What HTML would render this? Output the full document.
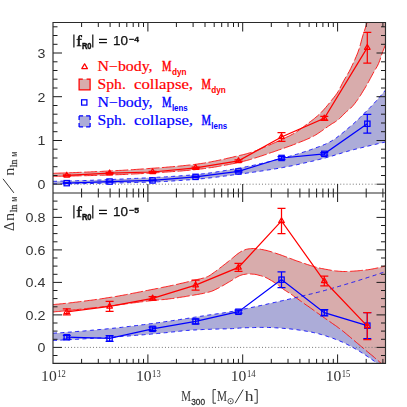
<!DOCTYPE html>
<html><head><meta charset="utf-8"><title>chart</title>
<style>html,body{margin:0;padding:0;background:#fff;}body{width:407px;height:407px;overflow:hidden;position:relative;font-family:"Liberation Sans",sans-serif;}</style>
</head><body>
<svg width="407" height="407" viewBox="0 0 407 407" style="position:absolute;left:0;top:0">
<defs><clipPath id="ct"><rect x="53.0" y="22.5" width="332.5" height="170.5"/></clipPath><clipPath id="cb"><rect x="53.0" y="193.0" width="332.5" height="170.39999999999998"/></clipPath></defs>
<rect width="407" height="407" fill="#fff"/>
<g>
<g clip-path="url(#ct)">
<path d="M53.0 181.3L54.4 181.3L55.8 181.3L57.2 181.2L58.6 181.2L60.0 181.2L61.3 181.1L62.7 181.1L64.1 181.1L65.5 181.1L66.9 181.0L68.3 181.0L69.7 181.0L71.1 180.9L72.5 180.9L73.9 180.8L75.3 180.8L76.7 180.8L78.0 180.7L79.4 180.7L80.8 180.6L82.2 180.6L83.6 180.6L85.0 180.5L86.4 180.5L87.8 180.4L89.2 180.4L90.6 180.3L92.0 180.3L93.3 180.2L94.7 180.2L96.1 180.1L97.5 180.1L98.9 180.0L100.3 180.0L101.7 179.9L103.1 179.9L104.5 179.8L105.9 179.7L107.3 179.7L108.6 179.6L110.0 179.6L111.4 179.5L112.8 179.5L114.2 179.4L115.6 179.3L117.0 179.3L118.4 179.2L119.8 179.1L121.2 179.1L122.6 179.0L124.0 179.0L125.3 178.9L126.7 178.8L128.1 178.8L129.5 178.7L130.9 178.6L132.3 178.6L133.7 178.5L135.1 178.4L136.5 178.4L137.9 178.3L139.3 178.2L140.6 178.2L142.0 178.1L143.4 178.0L144.8 178.0L146.2 177.9L147.6 177.8L149.0 177.8L150.4 177.7L151.8 177.6L153.2 177.5L154.6 177.5L155.9 177.4L157.3 177.3L158.7 177.2L160.1 177.2L161.5 177.1L162.9 177.0L164.3 176.9L165.7 176.9L167.1 176.8L168.5 176.7L169.9 176.6L171.3 176.5L172.6 176.4L174.0 176.3L175.4 176.2L176.8 176.1L178.2 176.0L179.6 175.9L181.0 175.8L182.4 175.7L183.8 175.6L185.2 175.5L186.6 175.4L187.9 175.3L189.3 175.2L190.7 175.0L192.1 174.9L193.5 174.8L194.9 174.7L196.3 174.5L197.7 174.4L199.1 174.3L200.5 174.1L201.9 173.9L203.3 173.8L204.6 173.6L206.0 173.4L207.4 173.2L208.8 173.1L210.2 172.9L211.6 172.7L213.0 172.5L214.4 172.3L215.8 172.1L217.2 171.8L218.6 171.6L219.9 171.4L221.3 171.2L222.7 171.0L224.1 170.7L225.5 170.5L226.9 170.2L228.3 170.0L229.7 169.8L231.1 169.5L232.5 169.3L233.9 169.0L235.2 168.8L236.6 168.5L238.0 168.3L239.4 168.0L240.8 167.8L242.2 167.5L243.6 167.3L245.0 167.0L246.4 166.7L247.8 166.4L249.2 166.1L250.6 165.9L251.9 165.6L253.3 165.3L254.7 165.0L256.1 164.7L257.5 164.4L258.9 164.0L260.3 163.7L261.7 163.4L263.1 163.1L264.5 162.8L265.9 162.4L267.2 162.1L268.6 161.8L270.0 161.4L271.4 161.1L272.8 160.7L274.2 160.4L275.6 160.0L277.0 159.7L278.4 159.3L279.8 159.0L281.2 158.6L282.6 158.2L283.9 157.9L285.3 157.5L286.7 157.1L288.1 156.7L289.5 156.3L290.9 155.9L292.3 155.5L293.7 155.1L295.1 154.7L296.5 154.3L297.9 153.9L299.2 153.4L300.6 153.0L302.0 152.6L303.4 152.1L304.8 151.7L306.2 151.2L307.6 150.7L309.0 150.3L310.4 149.8L311.8 149.3L313.2 148.8L314.5 148.3L315.9 147.8L317.3 147.3L318.7 146.8L320.1 146.3L321.5 145.7L322.9 145.2L324.3 144.6L325.7 144.0L327.1 143.3L328.5 142.6L329.9 141.9L331.2 141.2L332.6 140.3L334.0 139.4L335.4 138.5L336.8 137.5L338.2 136.4L339.6 135.4L341.0 134.2L342.4 133.1L343.8 132.0L345.2 130.8L346.5 129.6L347.9 128.4L349.3 127.3L350.7 126.1L352.1 124.9L353.5 123.7L354.9 122.4L356.3 121.1L357.7 119.8L359.1 118.5L360.5 117.2L361.8 115.8L363.2 114.4L364.6 113.0L366.0 111.6L367.4 110.2L368.8 108.8L370.2 107.4L371.6 105.9L373.0 104.4L374.4 102.9L375.8 101.4L377.2 99.8L378.5 98.3L379.9 96.7L381.3 95.1L382.7 93.4L384.1 91.8L385.5 90.1L385.5 141.9L384.1 142.3L382.7 142.6L381.3 142.9L379.9 143.3L378.5 143.6L377.2 143.9L375.8 144.3L374.4 144.6L373.0 144.9L371.6 145.3L370.2 145.6L368.8 145.9L367.4 146.3L366.0 146.6L364.6 147.0L363.2 147.3L361.8 147.6L360.5 148.0L359.1 148.3L357.7 148.6L356.3 149.0L354.9 149.3L353.5 149.7L352.1 150.1L350.7 150.4L349.3 150.8L347.9 151.2L346.5 151.6L345.2 152.0L343.8 152.4L342.4 152.8L341.0 153.3L339.6 153.7L338.2 154.2L336.8 154.6L335.4 155.0L334.0 155.4L332.6 155.9L331.2 156.3L329.9 156.7L328.5 157.0L327.1 157.4L325.7 157.8L324.3 158.2L322.9 158.5L321.5 158.9L320.1 159.2L318.7 159.6L317.3 159.9L315.9 160.3L314.5 160.6L313.2 161.0L311.8 161.3L310.4 161.6L309.0 161.9L307.6 162.3L306.2 162.6L304.8 162.9L303.4 163.2L302.0 163.5L300.6 163.9L299.2 164.2L297.9 164.5L296.5 164.8L295.1 165.1L293.7 165.4L292.3 165.7L290.9 166.0L289.5 166.2L288.1 166.5L286.7 166.8L285.3 167.1L283.9 167.3L282.6 167.6L281.2 167.8L279.8 168.1L278.4 168.3L277.0 168.6L275.6 168.8L274.2 169.0L272.8 169.3L271.4 169.5L270.0 169.7L268.6 169.9L267.2 170.1L265.9 170.4L264.5 170.6L263.1 170.8L261.7 171.0L260.3 171.2L258.9 171.4L257.5 171.6L256.1 171.8L254.7 172.0L253.3 172.2L251.9 172.4L250.6 172.6L249.2 172.8L247.8 173.0L246.4 173.2L245.0 173.4L243.6 173.6L242.2 173.7L240.8 173.9L239.4 174.1L238.0 174.3L236.6 174.5L235.2 174.7L233.9 174.8L232.5 175.0L231.1 175.2L229.7 175.4L228.3 175.6L226.9 175.8L225.5 176.0L224.1 176.1L222.7 176.3L221.3 176.5L219.9 176.7L218.6 176.9L217.2 177.0L215.8 177.2L214.4 177.4L213.0 177.5L211.6 177.7L210.2 177.9L208.8 178.0L207.4 178.2L206.0 178.3L204.6 178.5L203.3 178.6L201.9 178.7L200.5 178.9L199.1 179.0L197.7 179.1L196.3 179.2L194.9 179.4L193.5 179.5L192.1 179.6L190.7 179.7L189.3 179.8L187.9 179.9L186.6 180.0L185.2 180.1L183.8 180.2L182.4 180.3L181.0 180.4L179.6 180.5L178.2 180.6L176.8 180.7L175.4 180.8L174.0 180.9L172.6 181.0L171.3 181.1L169.9 181.2L168.5 181.3L167.1 181.3L165.7 181.4L164.3 181.5L162.9 181.6L161.5 181.6L160.1 181.7L158.7 181.8L157.3 181.8L155.9 181.9L154.6 181.9L153.2 182.0L151.8 182.0L150.4 182.0L149.0 182.1L147.6 182.1L146.2 182.2L144.8 182.2L143.4 182.3L142.0 182.3L140.6 182.3L139.3 182.4L137.9 182.4L136.5 182.5L135.1 182.5L133.7 182.5L132.3 182.6L130.9 182.6L129.5 182.6L128.1 182.7L126.7 182.7L125.3 182.8L124.0 182.8L122.6 182.8L121.2 182.9L119.8 182.9L118.4 182.9L117.0 183.0L115.6 183.0L114.2 183.0L112.8 183.1L111.4 183.1L110.0 183.1L108.6 183.1L107.3 183.2L105.9 183.2L104.5 183.2L103.1 183.3L101.7 183.3L100.3 183.3L98.9 183.3L97.5 183.4L96.1 183.4L94.7 183.4L93.3 183.4L92.0 183.5L90.6 183.5L89.2 183.5L87.8 183.5L86.4 183.5L85.0 183.6L83.6 183.6L82.2 183.6L80.8 183.6L79.4 183.6L78.0 183.7L76.7 183.7L75.3 183.7L73.9 183.7L72.5 183.7L71.1 183.7L69.7 183.7L68.3 183.7L66.9 183.8L65.5 183.8L64.1 183.8L62.7 183.8L61.3 183.8L60.0 183.8L58.6 183.8L57.2 183.8L55.8 183.8L54.4 183.8L53.0 183.8Z" fill="#acacd8" stroke="none"/>
<path d="M53.0 173.3L54.4 173.3L55.8 173.2L57.2 173.2L58.6 173.1L60.0 173.1L61.3 173.0L62.7 173.0L64.1 173.0L65.5 172.9L66.9 172.9L68.3 172.8L69.7 172.8L71.1 172.7L72.5 172.7L73.9 172.6L75.3 172.6L76.7 172.5L78.0 172.4L79.4 172.4L80.8 172.3L82.2 172.3L83.6 172.2L85.0 172.1L86.4 172.1L87.8 172.0L89.2 172.0L90.6 171.9L92.0 171.8L93.3 171.8L94.7 171.7L96.1 171.6L97.5 171.6L98.9 171.5L100.3 171.5L101.7 171.4L103.1 171.3L104.5 171.2L105.9 171.2L107.3 171.1L108.6 171.0L110.0 171.0L111.4 170.9L112.8 170.8L114.2 170.8L115.6 170.7L117.0 170.6L118.4 170.5L119.8 170.4L121.2 170.4L122.6 170.3L124.0 170.2L125.3 170.1L126.7 170.0L128.1 169.9L129.5 169.9L130.9 169.8L132.3 169.7L133.7 169.6L135.1 169.5L136.5 169.4L137.9 169.3L139.3 169.2L140.6 169.1L142.0 169.0L143.4 168.9L144.8 168.8L146.2 168.7L147.6 168.6L149.0 168.5L150.4 168.4L151.8 168.3L153.2 168.2L154.6 168.1L155.9 168.0L157.3 167.9L158.7 167.8L160.1 167.7L161.5 167.6L162.9 167.5L164.3 167.4L165.7 167.3L167.1 167.1L168.5 167.0L169.9 166.9L171.3 166.8L172.6 166.7L174.0 166.6L175.4 166.4L176.8 166.3L178.2 166.2L179.6 166.0L181.0 165.9L182.4 165.8L183.8 165.6L185.2 165.5L186.6 165.3L187.9 165.2L189.3 165.0L190.7 164.9L192.1 164.7L193.5 164.6L194.9 164.4L196.3 164.2L197.7 164.0L199.1 163.8L200.5 163.6L201.9 163.4L203.3 163.2L204.6 163.0L206.0 162.7L207.4 162.5L208.8 162.2L210.2 162.0L211.6 161.7L213.0 161.4L214.4 161.2L215.8 160.9L217.2 160.6L218.6 160.3L219.9 160.0L221.3 159.7L222.7 159.4L224.1 159.1L225.5 158.8L226.9 158.4L228.3 158.1L229.7 157.8L231.1 157.5L232.5 157.2L233.9 156.8L235.2 156.5L236.6 156.2L238.0 155.9L239.4 155.5L240.8 155.2L242.2 154.9L243.6 154.5L245.0 154.2L246.4 153.8L247.8 153.4L249.2 153.0L250.6 152.6L251.9 152.2L253.3 151.7L254.7 151.2L256.1 150.7L257.5 150.1L258.9 149.5L260.3 148.9L261.7 148.3L263.1 147.7L264.5 147.1L265.9 146.5L267.2 145.9L268.6 145.4L270.0 144.8L271.4 144.2L272.8 143.5L274.2 142.9L275.6 142.3L277.0 141.7L278.4 141.1L279.8 140.4L281.2 139.8L282.6 139.1L283.9 138.5L285.3 137.8L286.7 137.1L288.1 136.5L289.5 135.8L290.9 135.1L292.3 134.3L293.7 133.6L295.1 132.8L296.5 131.9L297.9 131.0L299.2 130.0L300.6 129.0L302.0 127.9L303.4 126.9L304.8 125.8L306.2 124.7L307.6 123.7L309.0 122.6L310.4 121.6L311.8 120.5L313.2 119.5L314.5 118.4L315.9 117.2L317.3 116.1L318.7 114.8L320.1 113.5L321.5 112.1L322.9 110.6L324.3 109.1L325.7 107.5L327.1 105.8L328.5 104.1L329.9 102.4L331.2 100.7L332.6 99.0L334.0 97.3L335.4 95.5L336.8 93.6L338.2 91.4L339.6 88.8L341.0 86.1L342.4 83.3L343.8 80.6L345.2 78.2L346.5 76.0L347.9 73.7L349.3 71.3L350.7 68.5L352.1 65.6L353.5 62.6L354.9 59.5L356.3 56.3L357.7 52.9L359.1 48.9L360.5 44.2L361.8 39.2L363.2 34.5L364.6 30.2L366.0 25.9L367.4 21.6L368.8 17.0L370.2 12.3L371.6 7.5L373.0 2.6L374.4 -2.3L375.8 -7.2L377.2 -12.2L378.5 -17.1L379.9 -21.9L381.3 -26.6L382.7 -31.2L384.1 -35.6L385.5 -39.8L385.5 44.9L384.1 48.2L382.7 51.8L381.3 55.7L379.9 60.2L378.5 63.7L377.2 66.4L375.8 68.7L374.4 71.0L373.0 73.5L371.6 76.1L370.2 78.7L368.8 81.3L367.4 83.9L366.0 86.3L364.6 88.7L363.2 90.9L361.8 93.2L360.5 95.4L359.1 97.5L357.7 99.6L356.3 101.5L354.9 103.4L353.5 105.1L352.1 106.7L350.7 108.1L349.3 109.3L347.9 110.5L346.5 111.6L345.2 112.9L343.8 114.2L342.4 115.7L341.0 117.1L339.6 118.5L338.2 119.7L336.8 120.7L335.4 121.7L334.0 122.6L332.6 123.4L331.2 124.3L329.9 125.2L328.5 126.1L327.1 127.1L325.7 128.1L324.3 129.1L322.9 130.1L321.5 131.1L320.1 132.0L318.7 133.0L317.3 133.9L315.9 134.8L314.5 135.6L313.2 136.3L311.8 137.0L310.4 137.7L309.0 138.4L307.6 139.0L306.2 139.6L304.8 140.2L303.4 140.8L302.0 141.3L300.6 141.9L299.2 142.4L297.9 143.0L296.5 143.5L295.1 144.1L293.7 144.6L292.3 145.2L290.9 145.7L289.5 146.2L288.1 146.7L286.7 147.2L285.3 147.7L283.9 148.2L282.6 148.7L281.2 149.2L279.8 149.6L278.4 150.1L277.0 150.6L275.6 151.1L274.2 151.6L272.8 152.1L271.4 152.5L270.0 153.0L268.6 153.5L267.2 154.0L265.9 154.5L264.5 154.9L263.1 155.4L261.7 155.9L260.3 156.3L258.9 156.8L257.5 157.2L256.1 157.7L254.7 158.1L253.3 158.5L251.9 159.0L250.6 159.4L249.2 159.8L247.8 160.2L246.4 160.6L245.0 160.9L243.6 161.3L242.2 161.6L240.8 162.0L239.4 162.3L238.0 162.6L236.6 162.9L235.2 163.2L233.9 163.5L232.5 163.8L231.1 164.0L229.7 164.3L228.3 164.6L226.9 164.9L225.5 165.1L224.1 165.4L222.7 165.6L221.3 165.9L219.9 166.1L218.6 166.4L217.2 166.6L215.8 166.9L214.4 167.1L213.0 167.3L211.6 167.5L210.2 167.7L208.8 167.9L207.4 168.1L206.0 168.3L204.6 168.5L203.3 168.7L201.9 168.9L200.5 169.0L199.1 169.2L197.7 169.4L196.3 169.5L194.9 169.7L193.5 169.8L192.1 170.0L190.7 170.1L189.3 170.2L187.9 170.4L186.6 170.5L185.2 170.6L183.8 170.7L182.4 170.9L181.0 171.0L179.6 171.1L178.2 171.2L176.8 171.3L175.4 171.4L174.0 171.5L172.6 171.6L171.3 171.7L169.9 171.8L168.5 171.9L167.1 172.0L165.7 172.1L164.3 172.2L162.9 172.3L161.5 172.4L160.1 172.5L158.7 172.6L157.3 172.7L155.9 172.8L154.6 172.8L153.2 172.9L151.8 173.0L150.4 173.1L149.0 173.2L147.6 173.3L146.2 173.3L144.8 173.4L143.4 173.5L142.0 173.6L140.6 173.6L139.3 173.7L137.9 173.8L136.5 173.9L135.1 173.9L133.7 174.0L132.3 174.1L130.9 174.1L129.5 174.2L128.1 174.3L126.7 174.3L125.3 174.4L124.0 174.5L122.6 174.5L121.2 174.6L119.8 174.6L118.4 174.7L117.0 174.7L115.6 174.8L114.2 174.8L112.8 174.9L111.4 174.9L110.0 175.0L108.6 175.0L107.3 175.1L105.9 175.1L104.5 175.2L103.1 175.2L101.7 175.2L100.3 175.3L98.9 175.3L97.5 175.4L96.1 175.4L94.7 175.4L93.3 175.5L92.0 175.5L90.6 175.6L89.2 175.6L87.8 175.6L86.4 175.7L85.0 175.7L83.6 175.7L82.2 175.8L80.8 175.8L79.4 175.8L78.0 175.9L76.7 175.9L75.3 175.9L73.9 176.0L72.5 176.0L71.1 176.0L69.7 176.1L68.3 176.1L66.9 176.1L65.5 176.1L64.1 176.2L62.7 176.2L61.3 176.2L60.0 176.2L58.6 176.2L57.2 176.3L55.8 176.3L54.4 176.3L53.0 176.3Z" fill="#d8acac" stroke="none"/>
<path d="M64.8 184.2H376.5" stroke="#777" stroke-width="1" stroke-dasharray="1 2.13" fill="none"/>
<path d="M53.0 173.3L54.4 173.3L55.8 173.2L57.2 173.2L58.6 173.1L60.0 173.1L61.3 173.0L62.7 173.0L64.1 173.0L65.5 172.9L66.9 172.9L68.3 172.8L69.7 172.8L71.1 172.7L72.5 172.7L73.9 172.6L75.3 172.6L76.7 172.5L78.0 172.4L79.4 172.4L80.8 172.3L82.2 172.3L83.6 172.2L85.0 172.1L86.4 172.1L87.8 172.0L89.2 172.0L90.6 171.9L92.0 171.8L93.3 171.8L94.7 171.7L96.1 171.6L97.5 171.6L98.9 171.5L100.3 171.5L101.7 171.4L103.1 171.3L104.5 171.2L105.9 171.2L107.3 171.1L108.6 171.0L110.0 171.0L111.4 170.9L112.8 170.8L114.2 170.8L115.6 170.7L117.0 170.6L118.4 170.5L119.8 170.4L121.2 170.4L122.6 170.3L124.0 170.2L125.3 170.1L126.7 170.0L128.1 169.9L129.5 169.9L130.9 169.8L132.3 169.7L133.7 169.6L135.1 169.5L136.5 169.4L137.9 169.3L139.3 169.2L140.6 169.1L142.0 169.0L143.4 168.9L144.8 168.8L146.2 168.7L147.6 168.6L149.0 168.5L150.4 168.4L151.8 168.3L153.2 168.2L154.6 168.1L155.9 168.0L157.3 167.9L158.7 167.8L160.1 167.7L161.5 167.6L162.9 167.5L164.3 167.4L165.7 167.3L167.1 167.1L168.5 167.0L169.9 166.9L171.3 166.8L172.6 166.7L174.0 166.6L175.4 166.4L176.8 166.3L178.2 166.2L179.6 166.0L181.0 165.9L182.4 165.8L183.8 165.6L185.2 165.5L186.6 165.3L187.9 165.2L189.3 165.0L190.7 164.9L192.1 164.7L193.5 164.6L194.9 164.4L196.3 164.2L197.7 164.0L199.1 163.8L200.5 163.6L201.9 163.4L203.3 163.2L204.6 163.0L206.0 162.7L207.4 162.5L208.8 162.2L210.2 162.0L211.6 161.7L213.0 161.4L214.4 161.2L215.8 160.9L217.2 160.6L218.6 160.3L219.9 160.0L221.3 159.7L222.7 159.4L224.1 159.1L225.5 158.8L226.9 158.4L228.3 158.1L229.7 157.8L231.1 157.5L232.5 157.2L233.9 156.8L235.2 156.5L236.6 156.2L238.0 155.9L239.4 155.5L240.8 155.2L242.2 154.9L243.6 154.5L245.0 154.2L246.4 153.8L247.8 153.4L249.2 153.0L250.6 152.6L251.9 152.2L253.3 151.7L254.7 151.2L256.1 150.7L257.5 150.1L258.9 149.5L260.3 148.9L261.7 148.3L263.1 147.7L264.5 147.1L265.9 146.5L267.2 145.9L268.6 145.4L270.0 144.8L271.4 144.2L272.8 143.5L274.2 142.9L275.6 142.3L277.0 141.7L278.4 141.1L279.8 140.4L281.2 139.8L282.6 139.1L283.9 138.5L285.3 137.8L286.7 137.1L288.1 136.5L289.5 135.8L290.9 135.1L292.3 134.3L293.7 133.6L295.1 132.8L296.5 131.9L297.9 131.0L299.2 130.0L300.6 129.0L302.0 127.9L303.4 126.9L304.8 125.8L306.2 124.7L307.6 123.7L309.0 122.6L310.4 121.6L311.8 120.5L313.2 119.5L314.5 118.4L315.9 117.2L317.3 116.1L318.7 114.8L320.1 113.5L321.5 112.1L322.9 110.6L324.3 109.1L325.7 107.5L327.1 105.8L328.5 104.1L329.9 102.4L331.2 100.7L332.6 99.0L334.0 97.3L335.4 95.5L336.8 93.6L338.2 91.4L339.6 88.8L341.0 86.1L342.4 83.3L343.8 80.6L345.2 78.2L346.5 76.0L347.9 73.7L349.3 71.3L350.7 68.5L352.1 65.6L353.5 62.6L354.9 59.5L356.3 56.3L357.7 52.9L359.1 48.9L360.5 44.2L361.8 39.2L363.2 34.5L364.6 30.2L366.0 25.9L367.4 21.6L368.8 17.0L370.2 12.3L371.6 7.5L373.0 2.6L374.4 -2.3L375.8 -7.2L377.2 -12.2L378.5 -17.1L379.9 -21.9L381.3 -26.6L382.7 -31.2L384.1 -35.6L385.5 -39.8" fill="none" stroke="#ff0000" stroke-width="0.85" stroke-dasharray="13 2.6"/>
<path d="M53.0 176.3L54.4 176.3L55.8 176.3L57.2 176.3L58.6 176.2L60.0 176.2L61.3 176.2L62.7 176.2L64.1 176.2L65.5 176.1L66.9 176.1L68.3 176.1L69.7 176.1L71.1 176.0L72.5 176.0L73.9 176.0L75.3 175.9L76.7 175.9L78.0 175.9L79.4 175.8L80.8 175.8L82.2 175.8L83.6 175.7L85.0 175.7L86.4 175.7L87.8 175.6L89.2 175.6L90.6 175.6L92.0 175.5L93.3 175.5L94.7 175.4L96.1 175.4L97.5 175.4L98.9 175.3L100.3 175.3L101.7 175.2L103.1 175.2L104.5 175.2L105.9 175.1L107.3 175.1L108.6 175.0L110.0 175.0L111.4 174.9L112.8 174.9L114.2 174.8L115.6 174.8L117.0 174.7L118.4 174.7L119.8 174.6L121.2 174.6L122.6 174.5L124.0 174.5L125.3 174.4L126.7 174.3L128.1 174.3L129.5 174.2L130.9 174.1L132.3 174.1L133.7 174.0L135.1 173.9L136.5 173.9L137.9 173.8L139.3 173.7L140.6 173.6L142.0 173.6L143.4 173.5L144.8 173.4L146.2 173.3L147.6 173.3L149.0 173.2L150.4 173.1L151.8 173.0L153.2 172.9L154.6 172.8L155.9 172.8L157.3 172.7L158.7 172.6L160.1 172.5L161.5 172.4L162.9 172.3L164.3 172.2L165.7 172.1L167.1 172.0L168.5 171.9L169.9 171.8L171.3 171.7L172.6 171.6L174.0 171.5L175.4 171.4L176.8 171.3L178.2 171.2L179.6 171.1L181.0 171.0L182.4 170.9L183.8 170.7L185.2 170.6L186.6 170.5L187.9 170.4L189.3 170.2L190.7 170.1L192.1 170.0L193.5 169.8L194.9 169.7L196.3 169.5L197.7 169.4L199.1 169.2L200.5 169.0L201.9 168.9L203.3 168.7L204.6 168.5L206.0 168.3L207.4 168.1L208.8 167.9L210.2 167.7L211.6 167.5L213.0 167.3L214.4 167.1L215.8 166.9L217.2 166.6L218.6 166.4L219.9 166.1L221.3 165.9L222.7 165.6L224.1 165.4L225.5 165.1L226.9 164.9L228.3 164.6L229.7 164.3L231.1 164.0L232.5 163.8L233.9 163.5L235.2 163.2L236.6 162.9L238.0 162.6L239.4 162.3L240.8 162.0L242.2 161.6L243.6 161.3L245.0 160.9L246.4 160.6L247.8 160.2L249.2 159.8L250.6 159.4L251.9 159.0L253.3 158.5L254.7 158.1L256.1 157.7L257.5 157.2L258.9 156.8L260.3 156.3L261.7 155.9L263.1 155.4L264.5 154.9L265.9 154.5L267.2 154.0L268.6 153.5L270.0 153.0L271.4 152.5L272.8 152.1L274.2 151.6L275.6 151.1L277.0 150.6L278.4 150.1L279.8 149.6L281.2 149.2L282.6 148.7L283.9 148.2L285.3 147.7L286.7 147.2L288.1 146.7L289.5 146.2L290.9 145.7L292.3 145.2L293.7 144.6L295.1 144.1L296.5 143.5L297.9 143.0L299.2 142.4L300.6 141.9L302.0 141.3L303.4 140.8L304.8 140.2L306.2 139.6L307.6 139.0L309.0 138.4L310.4 137.7L311.8 137.0L313.2 136.3L314.5 135.6L315.9 134.8L317.3 133.9L318.7 133.0L320.1 132.0L321.5 131.1L322.9 130.1L324.3 129.1L325.7 128.1L327.1 127.1L328.5 126.1L329.9 125.2L331.2 124.3L332.6 123.4L334.0 122.6L335.4 121.7L336.8 120.7L338.2 119.7L339.6 118.5L341.0 117.1L342.4 115.7L343.8 114.2L345.2 112.9L346.5 111.6L347.9 110.5L349.3 109.3L350.7 108.1L352.1 106.7L353.5 105.1L354.9 103.4L356.3 101.5L357.7 99.6L359.1 97.5L360.5 95.4L361.8 93.2L363.2 90.9L364.6 88.7L366.0 86.3L367.4 83.9L368.8 81.3L370.2 78.7L371.6 76.1L373.0 73.5L374.4 71.0L375.8 68.7L377.2 66.4L378.5 63.7L379.9 60.2L381.3 55.7L382.7 51.8L384.1 48.2L385.5 44.9" fill="none" stroke="#ff0000" stroke-width="0.85" stroke-dasharray="13 2.6"/>
<path d="M53.0 181.3L54.4 181.3L55.8 181.3L57.2 181.2L58.6 181.2L60.0 181.2L61.3 181.1L62.7 181.1L64.1 181.1L65.5 181.1L66.9 181.0L68.3 181.0L69.7 181.0L71.1 180.9L72.5 180.9L73.9 180.8L75.3 180.8L76.7 180.8L78.0 180.7L79.4 180.7L80.8 180.6L82.2 180.6L83.6 180.6L85.0 180.5L86.4 180.5L87.8 180.4L89.2 180.4L90.6 180.3L92.0 180.3L93.3 180.2L94.7 180.2L96.1 180.1L97.5 180.1L98.9 180.0L100.3 180.0L101.7 179.9L103.1 179.9L104.5 179.8L105.9 179.7L107.3 179.7L108.6 179.6L110.0 179.6L111.4 179.5L112.8 179.5L114.2 179.4L115.6 179.3L117.0 179.3L118.4 179.2L119.8 179.1L121.2 179.1L122.6 179.0L124.0 179.0L125.3 178.9L126.7 178.8L128.1 178.8L129.5 178.7L130.9 178.6L132.3 178.6L133.7 178.5L135.1 178.4L136.5 178.4L137.9 178.3L139.3 178.2L140.6 178.2L142.0 178.1L143.4 178.0L144.8 178.0L146.2 177.9L147.6 177.8L149.0 177.8L150.4 177.7L151.8 177.6L153.2 177.5L154.6 177.5L155.9 177.4L157.3 177.3L158.7 177.2L160.1 177.2L161.5 177.1L162.9 177.0L164.3 176.9L165.7 176.9L167.1 176.8L168.5 176.7L169.9 176.6L171.3 176.5L172.6 176.4L174.0 176.3L175.4 176.2L176.8 176.1L178.2 176.0L179.6 175.9L181.0 175.8L182.4 175.7L183.8 175.6L185.2 175.5L186.6 175.4L187.9 175.3L189.3 175.2L190.7 175.0L192.1 174.9L193.5 174.8L194.9 174.7L196.3 174.5L197.7 174.4L199.1 174.3L200.5 174.1L201.9 173.9L203.3 173.8L204.6 173.6L206.0 173.4L207.4 173.2L208.8 173.1L210.2 172.9L211.6 172.7L213.0 172.5L214.4 172.3L215.8 172.1L217.2 171.8L218.6 171.6L219.9 171.4L221.3 171.2L222.7 171.0L224.1 170.7L225.5 170.5L226.9 170.2L228.3 170.0L229.7 169.8L231.1 169.5L232.5 169.3L233.9 169.0L235.2 168.8L236.6 168.5L238.0 168.3L239.4 168.0L240.8 167.8L242.2 167.5L243.6 167.3L245.0 167.0L246.4 166.7L247.8 166.4L249.2 166.1L250.6 165.9L251.9 165.6L253.3 165.3L254.7 165.0L256.1 164.7L257.5 164.4L258.9 164.0L260.3 163.7L261.7 163.4L263.1 163.1L264.5 162.8L265.9 162.4L267.2 162.1L268.6 161.8L270.0 161.4L271.4 161.1L272.8 160.7L274.2 160.4L275.6 160.0L277.0 159.7L278.4 159.3L279.8 159.0L281.2 158.6L282.6 158.2L283.9 157.9L285.3 157.5L286.7 157.1L288.1 156.7L289.5 156.3L290.9 155.9L292.3 155.5L293.7 155.1L295.1 154.7L296.5 154.3L297.9 153.9L299.2 153.4L300.6 153.0L302.0 152.6L303.4 152.1L304.8 151.7L306.2 151.2L307.6 150.7L309.0 150.3L310.4 149.8L311.8 149.3L313.2 148.8L314.5 148.3L315.9 147.8L317.3 147.3L318.7 146.8L320.1 146.3L321.5 145.7L322.9 145.2L324.3 144.6L325.7 144.0L327.1 143.3L328.5 142.6L329.9 141.9L331.2 141.2L332.6 140.3L334.0 139.4L335.4 138.5L336.8 137.5L338.2 136.4L339.6 135.4L341.0 134.2L342.4 133.1L343.8 132.0L345.2 130.8L346.5 129.6L347.9 128.4L349.3 127.3L350.7 126.1L352.1 124.9L353.5 123.7L354.9 122.4L356.3 121.1L357.7 119.8L359.1 118.5L360.5 117.2L361.8 115.8L363.2 114.4L364.6 113.0L366.0 111.6L367.4 110.2L368.8 108.8L370.2 107.4L371.6 105.9L373.0 104.4L374.4 102.9L375.8 101.4L377.2 99.8L378.5 98.3L379.9 96.7L381.3 95.1L382.7 93.4L384.1 91.8L385.5 90.1" fill="none" stroke="#0000ff" stroke-width="0.85" stroke-dasharray="4 3.4"/>
<path d="M53.0 183.8L54.4 183.8L55.8 183.8L57.2 183.8L58.6 183.8L60.0 183.8L61.3 183.8L62.7 183.8L64.1 183.8L65.5 183.8L66.9 183.8L68.3 183.7L69.7 183.7L71.1 183.7L72.5 183.7L73.9 183.7L75.3 183.7L76.7 183.7L78.0 183.7L79.4 183.6L80.8 183.6L82.2 183.6L83.6 183.6L85.0 183.6L86.4 183.5L87.8 183.5L89.2 183.5L90.6 183.5L92.0 183.5L93.3 183.4L94.7 183.4L96.1 183.4L97.5 183.4L98.9 183.3L100.3 183.3L101.7 183.3L103.1 183.3L104.5 183.2L105.9 183.2L107.3 183.2L108.6 183.1L110.0 183.1L111.4 183.1L112.8 183.1L114.2 183.0L115.6 183.0L117.0 183.0L118.4 182.9L119.8 182.9L121.2 182.9L122.6 182.8L124.0 182.8L125.3 182.8L126.7 182.7L128.1 182.7L129.5 182.6L130.9 182.6L132.3 182.6L133.7 182.5L135.1 182.5L136.5 182.5L137.9 182.4L139.3 182.4L140.6 182.3L142.0 182.3L143.4 182.3L144.8 182.2L146.2 182.2L147.6 182.1L149.0 182.1L150.4 182.0L151.8 182.0L153.2 182.0L154.6 181.9L155.9 181.9L157.3 181.8L158.7 181.8L160.1 181.7L161.5 181.6L162.9 181.6L164.3 181.5L165.7 181.4L167.1 181.3L168.5 181.3L169.9 181.2L171.3 181.1L172.6 181.0L174.0 180.9L175.4 180.8L176.8 180.7L178.2 180.6L179.6 180.5L181.0 180.4L182.4 180.3L183.8 180.2L185.2 180.1L186.6 180.0L187.9 179.9L189.3 179.8L190.7 179.7L192.1 179.6L193.5 179.5L194.9 179.4L196.3 179.2L197.7 179.1L199.1 179.0L200.5 178.9L201.9 178.7L203.3 178.6L204.6 178.5L206.0 178.3L207.4 178.2L208.8 178.0L210.2 177.9L211.6 177.7L213.0 177.5L214.4 177.4L215.8 177.2L217.2 177.0L218.6 176.9L219.9 176.7L221.3 176.5L222.7 176.3L224.1 176.1L225.5 176.0L226.9 175.8L228.3 175.6L229.7 175.4L231.1 175.2L232.5 175.0L233.9 174.8L235.2 174.7L236.6 174.5L238.0 174.3L239.4 174.1L240.8 173.9L242.2 173.7L243.6 173.6L245.0 173.4L246.4 173.2L247.8 173.0L249.2 172.8L250.6 172.6L251.9 172.4L253.3 172.2L254.7 172.0L256.1 171.8L257.5 171.6L258.9 171.4L260.3 171.2L261.7 171.0L263.1 170.8L264.5 170.6L265.9 170.4L267.2 170.1L268.6 169.9L270.0 169.7L271.4 169.5L272.8 169.3L274.2 169.0L275.6 168.8L277.0 168.6L278.4 168.3L279.8 168.1L281.2 167.8L282.6 167.6L283.9 167.3L285.3 167.1L286.7 166.8L288.1 166.5L289.5 166.2L290.9 166.0L292.3 165.7L293.7 165.4L295.1 165.1L296.5 164.8L297.9 164.5L299.2 164.2L300.6 163.9L302.0 163.5L303.4 163.2L304.8 162.9L306.2 162.6L307.6 162.3L309.0 161.9L310.4 161.6L311.8 161.3L313.2 161.0L314.5 160.6L315.9 160.3L317.3 159.9L318.7 159.6L320.1 159.2L321.5 158.9L322.9 158.5L324.3 158.2L325.7 157.8L327.1 157.4L328.5 157.0L329.9 156.7L331.2 156.3L332.6 155.9L334.0 155.4L335.4 155.0L336.8 154.6L338.2 154.2L339.6 153.7L341.0 153.3L342.4 152.8L343.8 152.4L345.2 152.0L346.5 151.6L347.9 151.2L349.3 150.8L350.7 150.4L352.1 150.1L353.5 149.7L354.9 149.3L356.3 149.0L357.7 148.6L359.1 148.3L360.5 148.0L361.8 147.6L363.2 147.3L364.6 147.0L366.0 146.6L367.4 146.3L368.8 145.9L370.2 145.6L371.6 145.3L373.0 144.9L374.4 144.6L375.8 144.3L377.2 143.9L378.5 143.6L379.9 143.3L381.3 142.9L382.7 142.6L384.1 142.3L385.5 141.9" fill="none" stroke="#0000ff" stroke-width="0.85" stroke-dasharray="4 3.4"/>
<polyline points="66.8,183.2 109.6,181.6 152.6,180.4 195.6,176.8 238.5,171.4 281.5,158.0 324.3,153.8 367.3,123.8" fill="none" stroke="#0000ff" stroke-width="1.25"/>
<path d="M66.8 182.7V183.7M62.8 182.7H70.8M62.8 183.7H70.8" fill="none" stroke="#0000ff" stroke-width="1.25"/>
<rect x="64.1" y="180.5" width="5.3" height="5.3" fill="none" stroke="#0000ff" stroke-width="1.25"/>
<path d="M109.6 181.1V182.1M105.6 181.1H113.6M105.6 182.1H113.6" fill="none" stroke="#0000ff" stroke-width="1.25"/>
<rect x="106.9" y="178.9" width="5.3" height="5.3" fill="none" stroke="#0000ff" stroke-width="1.25"/>
<path d="M152.6 179.9V180.9M148.6 179.9H156.6M148.6 180.9H156.6" fill="none" stroke="#0000ff" stroke-width="1.25"/>
<rect x="149.9" y="177.8" width="5.3" height="5.3" fill="none" stroke="#0000ff" stroke-width="1.25"/>
<path d="M195.6 176.2V177.4M191.6 176.2H199.6M191.6 177.4H199.6" fill="none" stroke="#0000ff" stroke-width="1.25"/>
<rect x="192.9" y="174.2" width="5.3" height="5.3" fill="none" stroke="#0000ff" stroke-width="1.25"/>
<path d="M238.5 170.6V172.2M234.5 170.6H242.5M234.5 172.2H242.5" fill="none" stroke="#0000ff" stroke-width="1.25"/>
<rect x="235.8" y="168.8" width="5.3" height="5.3" fill="none" stroke="#0000ff" stroke-width="1.25"/>
<path d="M281.5 156.5V159.5M277.5 156.5H285.5M277.5 159.5H285.5" fill="none" stroke="#0000ff" stroke-width="1.25"/>
<rect x="278.9" y="155.3" width="5.3" height="5.3" fill="none" stroke="#0000ff" stroke-width="1.25"/>
<path d="M324.3 152.6V155.0M320.3 152.6H328.3M320.3 155.0H328.3" fill="none" stroke="#0000ff" stroke-width="1.25"/>
<rect x="321.7" y="151.2" width="5.3" height="5.3" fill="none" stroke="#0000ff" stroke-width="1.25"/>
<path d="M367.3 114.4V133.2M363.3 114.4H371.3M363.3 133.2H371.3" fill="none" stroke="#0000ff" stroke-width="1.25"/>
<rect x="364.7" y="121.1" width="5.3" height="5.3" fill="none" stroke="#0000ff" stroke-width="1.25"/>
<polyline points="66.8,175.4 109.6,173.2 152.6,172.0 195.6,167.8 238.5,160.9 281.5,137.0 324.3,118.3 367.3,47.7" fill="none" stroke="#ff0000" stroke-width="1.25"/>
<path d="M66.8 174.8V176.0M62.8 174.8H70.8M62.8 176.0H70.8" fill="none" stroke="#ff0000" stroke-width="1.25"/>
<path d="M66.8 172.2L69.6 177.0L64.0 177.0Z" fill="none" stroke="#ff0000" stroke-width="1.25" stroke-linejoin="round"/>
<path d="M109.6 172.6V173.8M105.6 172.6H113.6M105.6 173.8H113.6" fill="none" stroke="#ff0000" stroke-width="1.25"/>
<path d="M109.6 170.0L112.4 174.8L106.8 174.8Z" fill="none" stroke="#ff0000" stroke-width="1.25" stroke-linejoin="round"/>
<path d="M152.6 171.4V172.6M148.6 171.4H156.6M148.6 172.6H156.6" fill="none" stroke="#ff0000" stroke-width="1.25"/>
<path d="M152.6 168.8L155.4 173.6L149.8 173.6Z" fill="none" stroke="#ff0000" stroke-width="1.25" stroke-linejoin="round"/>
<path d="M195.6 167.0V168.6M191.6 167.0H199.6M191.6 168.6H199.6" fill="none" stroke="#ff0000" stroke-width="1.25"/>
<path d="M195.6 164.6L198.4 169.4L192.8 169.4Z" fill="none" stroke="#ff0000" stroke-width="1.25" stroke-linejoin="round"/>
<path d="M238.5 159.9V161.9M234.5 159.9H242.5M234.5 161.9H242.5" fill="none" stroke="#ff0000" stroke-width="1.25"/>
<path d="M238.5 157.7L241.3 162.5L235.7 162.5Z" fill="none" stroke="#ff0000" stroke-width="1.25" stroke-linejoin="round"/>
<path d="M281.5 132.6V141.4M277.5 132.6H285.5M277.5 141.4H285.5" fill="none" stroke="#ff0000" stroke-width="1.25"/>
<path d="M281.5 133.8L284.3 138.6L278.7 138.6Z" fill="none" stroke="#ff0000" stroke-width="1.25" stroke-linejoin="round"/>
<path d="M324.3 116.3V120.3M320.3 116.3H328.3M320.3 120.3H328.3" fill="none" stroke="#ff0000" stroke-width="1.25"/>
<path d="M324.3 115.1L327.1 119.9L321.5 119.9Z" fill="none" stroke="#ff0000" stroke-width="1.25" stroke-linejoin="round"/>
<path d="M367.3 32.4V63.0M363.3 32.4H371.3M363.3 63.0H371.3" fill="none" stroke="#ff0000" stroke-width="1.25"/>
<path d="M367.3 44.5L370.1 49.3L364.5 49.3Z" fill="none" stroke="#ff0000" stroke-width="1.25" stroke-linejoin="round"/>
</g>
<g clip-path="url(#cb)">
<path d="M53.0 333.2L54.4 333.1L55.8 333.0L57.2 332.9L58.6 332.9L60.0 332.8L61.3 332.7L62.7 332.6L64.1 332.5L65.5 332.4L66.9 332.3L68.3 332.2L69.7 332.1L71.1 332.0L72.5 331.9L73.9 331.8L75.3 331.6L76.7 331.5L78.0 331.4L79.4 331.3L80.8 331.2L82.2 331.1L83.6 331.0L85.0 330.9L86.4 330.7L87.8 330.6L89.2 330.5L90.6 330.4L92.0 330.2L93.3 330.1L94.7 330.0L96.1 329.9L97.5 329.7L98.9 329.6L100.3 329.5L101.7 329.3L103.1 329.2L104.5 329.1L105.9 329.0L107.3 328.8L108.6 328.7L110.0 328.5L111.4 328.4L112.8 328.3L114.2 328.1L115.6 328.0L117.0 327.8L118.4 327.7L119.8 327.5L121.2 327.4L122.6 327.2L124.0 327.1L125.3 326.9L126.7 326.7L128.1 326.6L129.5 326.4L130.9 326.2L132.3 326.1L133.7 325.9L135.1 325.7L136.5 325.5L137.9 325.4L139.3 325.2L140.6 325.0L142.0 324.8L143.4 324.7L144.8 324.5L146.2 324.3L147.6 324.1L149.0 323.9L150.4 323.7L151.8 323.6L153.2 323.4L154.6 323.2L155.9 323.0L157.3 322.8L158.7 322.6L160.1 322.4L161.5 322.2L162.9 322.0L164.3 321.8L165.7 321.6L167.1 321.4L168.5 321.2L169.9 321.0L171.3 320.8L172.6 320.6L174.0 320.4L175.4 320.2L176.8 320.0L178.2 319.8L179.6 319.6L181.0 319.3L182.4 319.1L183.8 318.9L185.2 318.7L186.6 318.5L187.9 318.3L189.3 318.1L190.7 317.9L192.1 317.7L193.5 317.4L194.9 317.2L196.3 317.0L197.7 316.8L199.1 316.6L200.5 316.3L201.9 316.1L203.3 315.9L204.6 315.7L206.0 315.5L207.4 315.2L208.8 315.0L210.2 314.8L211.6 314.6L213.0 314.4L214.4 314.2L215.8 314.0L217.2 313.8L218.6 313.6L219.9 313.4L221.3 313.2L222.7 313.0L224.1 312.8L225.5 312.5L226.9 312.3L228.3 312.1L229.7 311.9L231.1 311.6L232.5 311.4L233.9 311.1L235.2 310.8L236.6 310.6L238.0 310.3L239.4 310.0L240.8 309.7L242.2 309.4L243.6 309.1L245.0 308.8L246.4 308.6L247.8 308.3L249.2 308.0L250.6 307.7L251.9 307.4L253.3 307.1L254.7 306.8L256.1 306.5L257.5 306.2L258.9 305.9L260.3 305.6L261.7 305.3L263.1 305.0L264.5 304.7L265.9 304.4L267.2 304.1L268.6 303.7L270.0 303.4L271.4 303.1L272.8 302.8L274.2 302.5L275.6 302.2L277.0 301.9L278.4 301.6L279.8 301.3L281.2 300.9L282.6 300.6L283.9 300.3L285.3 300.0L286.7 299.7L288.1 299.4L289.5 299.0L290.9 298.7L292.3 298.4L293.7 298.0L295.1 297.7L296.5 297.4L297.9 297.1L299.2 296.7L300.6 296.4L302.0 296.1L303.4 295.7L304.8 295.4L306.2 295.1L307.6 294.7L309.0 294.4L310.4 294.1L311.8 293.8L313.2 293.4L314.5 293.1L315.9 292.8L317.3 292.4L318.7 292.1L320.1 291.7L321.5 291.4L322.9 291.0L324.3 290.6L325.7 290.2L327.1 289.8L328.5 289.5L329.9 289.1L331.2 288.7L332.6 288.2L334.0 287.8L335.4 287.4L336.8 287.0L338.2 286.6L339.6 286.2L341.0 285.8L342.4 285.3L343.8 284.9L345.2 284.5L346.5 284.1L347.9 283.7L349.3 283.3L350.7 282.8L352.1 282.4L353.5 282.0L354.9 281.6L356.3 281.1L357.7 280.7L359.1 280.3L360.5 279.8L361.8 279.4L363.2 279.0L364.6 278.5L366.0 278.1L367.4 277.6L368.8 277.2L370.2 276.7L371.6 276.3L373.0 275.8L374.4 275.4L375.8 274.9L377.2 274.4L378.5 274.0L379.9 273.5L381.3 273.0L382.7 272.6L384.1 272.1L385.5 271.6L385.5 370.0L384.1 368.8L382.7 367.7L381.3 366.6L379.9 365.5L378.5 364.4L377.2 363.4L375.8 362.3L374.4 361.3L373.0 360.3L371.6 359.3L370.2 358.3L368.8 357.4L367.4 356.4L366.0 355.5L364.6 354.5L363.2 353.6L361.8 352.8L360.5 351.9L359.1 351.0L357.7 350.2L356.3 349.4L354.9 348.6L353.5 347.8L352.1 347.0L350.7 346.2L349.3 345.5L347.9 344.8L346.5 344.1L345.2 343.4L343.8 342.8L342.4 342.1L341.0 341.5L339.6 340.9L338.2 340.4L336.8 339.8L335.4 339.3L334.0 338.7L332.6 338.2L331.2 337.7L329.9 337.2L328.5 336.8L327.1 336.3L325.7 335.9L324.3 335.4L322.9 335.0L321.5 334.6L320.1 334.2L318.7 333.8L317.3 333.4L315.9 333.1L314.5 332.8L313.2 332.5L311.8 332.2L310.4 331.9L309.0 331.7L307.6 331.4L306.2 331.2L304.8 330.9L303.4 330.7L302.0 330.5L300.6 330.3L299.2 330.1L297.9 329.9L296.5 329.7L295.1 329.5L293.7 329.4L292.3 329.2L290.9 329.0L289.5 328.9L288.1 328.7L286.7 328.6L285.3 328.5L283.9 328.4L282.6 328.3L281.2 328.2L279.8 328.1L278.4 328.0L277.0 327.9L275.6 327.8L274.2 327.7L272.8 327.7L271.4 327.6L270.0 327.5L268.6 327.5L267.2 327.4L265.9 327.4L264.5 327.4L263.1 327.4L261.7 327.4L260.3 327.4L258.9 327.4L257.5 327.5L256.1 327.5L254.7 327.5L253.3 327.6L251.9 327.6L250.6 327.6L249.2 327.7L247.8 327.7L246.4 327.7L245.0 327.8L243.6 327.8L242.2 327.9L240.8 328.0L239.4 328.1L238.0 328.2L236.6 328.3L235.2 328.4L233.9 328.5L232.5 328.6L231.1 328.7L229.7 328.7L228.3 328.8L226.9 328.8L225.5 328.9L224.1 328.9L222.7 328.9L221.3 329.0L219.9 329.0L218.6 329.0L217.2 329.1L215.8 329.1L214.4 329.1L213.0 329.2L211.6 329.2L210.2 329.3L208.8 329.3L207.4 329.4L206.0 329.4L204.6 329.5L203.3 329.5L201.9 329.6L200.5 329.7L199.1 329.7L197.7 329.8L196.3 329.9L194.9 330.0L193.5 330.0L192.1 330.1L190.7 330.2L189.3 330.3L187.9 330.4L186.6 330.5L185.2 330.6L183.8 330.8L182.4 330.9L181.0 331.1L179.6 331.2L178.2 331.4L176.8 331.5L175.4 331.7L174.0 331.8L172.6 332.0L171.3 332.1L169.9 332.3L168.5 332.4L167.1 332.6L165.7 332.7L164.3 332.8L162.9 333.0L161.5 333.1L160.1 333.3L158.7 333.4L157.3 333.5L155.9 333.7L154.6 333.8L153.2 333.9L151.8 334.0L150.4 334.2L149.0 334.3L147.6 334.4L146.2 334.5L144.8 334.6L143.4 334.8L142.0 334.9L140.6 335.0L139.3 335.1L137.9 335.2L136.5 335.3L135.1 335.4L133.7 335.5L132.3 335.7L130.9 335.8L129.5 335.9L128.1 336.0L126.7 336.1L125.3 336.2L124.0 336.3L122.6 336.4L121.2 336.5L119.8 336.6L118.4 336.7L117.0 336.8L115.6 336.9L114.2 337.0L112.8 337.1L111.4 337.2L110.0 337.3L108.6 337.4L107.3 337.4L105.9 337.5L104.5 337.6L103.1 337.7L101.7 337.8L100.3 337.9L98.9 338.0L97.5 338.1L96.1 338.2L94.7 338.2L93.3 338.3L92.0 338.4L90.6 338.5L89.2 338.6L87.8 338.7L86.4 338.7L85.0 338.8L83.6 338.9L82.2 339.0L80.8 339.1L79.4 339.1L78.0 339.2L76.7 339.3L75.3 339.4L73.9 339.5L72.5 339.5L71.1 339.6L69.7 339.7L68.3 339.8L66.9 339.8L65.5 339.9L64.1 340.0L62.7 340.0L61.3 340.1L60.0 340.2L58.6 340.2L57.2 340.3L55.8 340.4L54.4 340.4L53.0 340.5Z" fill="#acacd8" stroke="none"/>
<path d="M53.0 304.6L54.4 304.5L55.8 304.3L57.2 304.2L58.6 304.1L60.0 303.9L61.3 303.8L62.7 303.7L64.1 303.5L65.5 303.4L66.9 303.2L68.3 303.0L69.7 302.9L71.1 302.7L72.5 302.6L73.9 302.4L75.3 302.2L76.7 302.1L78.0 301.9L79.4 301.7L80.8 301.5L82.2 301.4L83.6 301.2L85.0 301.0L86.4 300.8L87.8 300.6L89.2 300.4L90.6 300.3L92.0 300.1L93.3 299.9L94.7 299.7L96.1 299.5L97.5 299.3L98.9 299.1L100.3 298.9L101.7 298.7L103.1 298.5L104.5 298.3L105.9 298.0L107.3 297.8L108.6 297.6L110.0 297.4L111.4 297.2L112.8 297.0L114.2 296.8L115.6 296.5L117.0 296.3L118.4 296.0L119.8 295.8L121.2 295.5L122.6 295.3L124.0 295.0L125.3 294.8L126.7 294.5L128.1 294.2L129.5 294.0L130.9 293.7L132.3 293.4L133.7 293.1L135.1 292.9L136.5 292.6L137.9 292.3L139.3 292.0L140.6 291.8L142.0 291.5L143.4 291.2L144.8 290.9L146.2 290.6L147.6 290.4L149.0 290.1L150.4 289.8L151.8 289.5L153.2 289.3L154.6 289.0L155.9 288.7L157.3 288.5L158.7 288.2L160.1 287.9L161.5 287.6L162.9 287.3L164.3 287.0L165.7 286.8L167.1 286.5L168.5 286.2L169.9 285.9L171.3 285.6L172.6 285.3L174.0 285.0L175.4 284.7L176.8 284.4L178.2 284.1L179.6 283.7L181.0 283.4L182.4 283.1L183.8 282.8L185.2 282.5L186.6 282.1L187.9 281.8L189.3 281.5L190.7 281.1L192.1 280.8L193.5 280.4L194.9 280.1L196.3 279.8L197.7 279.4L199.1 279.1L200.5 278.8L201.9 278.4L203.3 278.1L204.6 277.6L206.0 277.2L207.4 276.7L208.8 276.0L210.2 275.2L211.6 274.2L213.0 273.2L214.4 272.2L215.8 271.2L217.2 270.2L218.6 269.1L219.9 268.0L221.3 267.0L222.7 265.9L224.1 264.8L225.5 263.7L226.9 262.6L228.3 261.5L229.7 260.3L231.1 259.2L232.5 258.1L233.9 256.9L235.2 255.8L236.6 254.6L238.0 253.6L239.4 252.6L240.8 251.7L242.2 250.9L243.6 250.3L245.0 249.8L246.4 249.3L247.8 249.0L249.2 248.8L250.6 248.7L251.9 248.6L253.3 248.5L254.7 248.5L256.1 248.6L257.5 248.8L258.9 249.0L260.3 249.2L261.7 249.5L263.1 249.7L264.5 250.0L265.9 250.3L267.2 250.6L268.6 251.0L270.0 251.4L271.4 251.8L272.8 252.2L274.2 252.7L275.6 253.2L277.0 253.7L278.4 254.1L279.8 254.6L281.2 255.1L282.6 255.6L283.9 256.1L285.3 256.6L286.7 257.1L288.1 257.7L289.5 258.2L290.9 258.7L292.3 259.2L293.7 259.8L295.1 260.3L296.5 260.8L297.9 261.3L299.2 261.7L300.6 262.2L302.0 262.7L303.4 263.1L304.8 263.6L306.2 264.1L307.6 264.6L309.0 265.0L310.4 265.5L311.8 265.9L313.2 266.4L314.5 266.8L315.9 267.2L317.3 267.5L318.7 267.9L320.1 268.2L321.5 268.5L322.9 268.7L324.3 269.0L325.7 269.3L327.1 269.5L328.5 269.8L329.9 270.0L331.2 270.3L332.6 270.5L334.0 270.7L335.4 270.9L336.8 271.0L338.2 271.2L339.6 271.3L341.0 271.4L342.4 271.5L343.8 271.5L345.2 271.5L346.5 271.5L347.9 271.4L349.3 271.4L350.7 271.3L352.1 271.2L353.5 271.1L354.9 271.0L356.3 270.9L357.7 270.8L359.1 270.7L360.5 270.5L361.8 270.4L363.2 270.2L364.6 270.1L366.0 269.9L367.4 269.8L368.8 269.6L370.2 269.4L371.6 269.1L373.0 268.9L374.4 268.6L375.8 268.3L377.2 268.0L378.5 267.7L379.9 267.4L381.3 267.0L382.7 266.6L384.1 266.3L385.5 265.9L385.5 367.3L384.1 366.0L382.7 364.7L381.3 363.5L379.9 362.3L378.5 361.0L377.2 359.8L375.8 358.7L374.4 357.5L373.0 356.3L371.6 355.1L370.2 354.0L368.8 352.8L367.4 351.7L366.0 350.5L364.6 349.4L363.2 348.2L361.8 347.0L360.5 345.9L359.1 344.7L357.7 343.5L356.3 342.4L354.9 341.2L353.5 340.0L352.1 338.8L350.7 337.6L349.3 336.4L347.9 335.3L346.5 334.1L345.2 333.0L343.8 331.8L342.4 330.7L341.0 329.7L339.6 328.6L338.2 327.6L336.8 326.5L335.4 325.5L334.0 324.6L332.6 323.6L331.2 322.6L329.9 321.7L328.5 320.7L327.1 319.7L325.7 318.8L324.3 317.8L322.9 316.8L321.5 315.8L320.1 314.8L318.7 313.8L317.3 312.9L315.9 311.9L314.5 310.9L313.2 309.9L311.8 308.9L310.4 307.9L309.0 306.9L307.6 305.9L306.2 305.0L304.8 304.0L303.4 303.0L302.0 302.0L300.6 301.0L299.2 300.0L297.9 299.0L296.5 298.1L295.1 297.1L293.7 296.1L292.3 295.1L290.9 294.1L289.5 293.2L288.1 292.3L286.7 291.4L285.3 290.5L283.9 289.6L282.6 288.6L281.2 287.6L279.8 286.4L278.4 285.3L277.0 284.2L275.6 283.3L274.2 282.4L272.8 281.4L271.4 280.6L270.0 279.8L268.6 279.0L267.2 278.2L265.9 277.6L264.5 277.0L263.1 276.5L261.7 276.0L260.3 275.6L258.9 275.3L257.5 274.9L256.1 274.5L254.7 274.3L253.3 274.2L251.9 274.1L250.6 274.0L249.2 274.0L247.8 274.0L246.4 274.1L245.0 274.3L243.6 274.5L242.2 274.8L240.8 275.3L239.4 275.8L238.0 276.5L236.6 277.3L235.2 278.1L233.9 279.0L232.5 279.9L231.1 280.8L229.7 281.6L228.3 282.4L226.9 283.2L225.5 284.1L224.1 284.9L222.7 285.7L221.3 286.5L219.9 287.2L218.6 288.0L217.2 288.7L215.8 289.4L214.4 290.1L213.0 290.7L211.6 291.3L210.2 291.7L208.8 292.1L207.4 292.5L206.0 292.8L204.6 293.1L203.3 293.4L201.9 293.7L200.5 293.9L199.1 294.2L197.7 294.4L196.3 294.7L194.9 294.9L193.5 295.2L192.1 295.4L190.7 295.6L189.3 295.9L187.9 296.1L186.6 296.3L185.2 296.6L183.8 296.8L182.4 297.0L181.0 297.2L179.6 297.4L178.2 297.7L176.8 297.9L175.4 298.1L174.0 298.3L172.6 298.5L171.3 298.6L169.9 298.8L168.5 299.0L167.1 299.2L165.7 299.3L164.3 299.5L162.9 299.6L161.5 299.7L160.1 299.9L158.7 300.0L157.3 300.1L155.9 300.2L154.6 300.4L153.2 300.5L151.8 300.6L150.4 300.8L149.0 300.9L147.6 301.1L146.2 301.2L144.8 301.4L143.4 301.6L142.0 301.8L140.6 301.9L139.3 302.1L137.9 302.3L136.5 302.5L135.1 302.7L133.7 302.8L132.3 303.0L130.9 303.2L129.5 303.4L128.1 303.6L126.7 303.8L125.3 304.0L124.0 304.2L122.6 304.3L121.2 304.5L119.8 304.7L118.4 304.9L117.0 305.1L115.6 305.3L114.2 305.4L112.8 305.6L111.4 305.8L110.0 305.9L108.6 306.1L107.3 306.3L105.9 306.4L104.5 306.6L103.1 306.7L101.7 306.9L100.3 307.1L98.9 307.2L97.5 307.4L96.1 307.5L94.7 307.7L93.3 307.8L92.0 308.0L90.6 308.1L89.2 308.3L87.8 308.4L86.4 308.6L85.0 308.8L83.6 308.9L82.2 309.1L80.8 309.2L79.4 309.3L78.0 309.5L76.7 309.6L75.3 309.8L73.9 309.9L72.5 310.1L71.1 310.2L69.7 310.4L68.3 310.5L66.9 310.6L65.5 310.8L64.1 310.9L62.7 311.1L61.3 311.2L60.0 311.3L58.6 311.5L57.2 311.6L55.8 311.7L54.4 311.9L53.0 312.0Z" fill="#d8acac" stroke="none"/>
<path d="M64.8 347.4H376.5" stroke="#777" stroke-width="1" stroke-dasharray="1 2.13" fill="none"/>
<path d="M53.0 304.6L54.4 304.5L55.8 304.3L57.2 304.2L58.6 304.1L60.0 303.9L61.3 303.8L62.7 303.7L64.1 303.5L65.5 303.4L66.9 303.2L68.3 303.0L69.7 302.9L71.1 302.7L72.5 302.6L73.9 302.4L75.3 302.2L76.7 302.1L78.0 301.9L79.4 301.7L80.8 301.5L82.2 301.4L83.6 301.2L85.0 301.0L86.4 300.8L87.8 300.6L89.2 300.4L90.6 300.3L92.0 300.1L93.3 299.9L94.7 299.7L96.1 299.5L97.5 299.3L98.9 299.1L100.3 298.9L101.7 298.7L103.1 298.5L104.5 298.3L105.9 298.0L107.3 297.8L108.6 297.6L110.0 297.4L111.4 297.2L112.8 297.0L114.2 296.8L115.6 296.5L117.0 296.3L118.4 296.0L119.8 295.8L121.2 295.5L122.6 295.3L124.0 295.0L125.3 294.8L126.7 294.5L128.1 294.2L129.5 294.0L130.9 293.7L132.3 293.4L133.7 293.1L135.1 292.9L136.5 292.6L137.9 292.3L139.3 292.0L140.6 291.8L142.0 291.5L143.4 291.2L144.8 290.9L146.2 290.6L147.6 290.4L149.0 290.1L150.4 289.8L151.8 289.5L153.2 289.3L154.6 289.0L155.9 288.7L157.3 288.5L158.7 288.2L160.1 287.9L161.5 287.6L162.9 287.3L164.3 287.0L165.7 286.8L167.1 286.5L168.5 286.2L169.9 285.9L171.3 285.6L172.6 285.3L174.0 285.0L175.4 284.7L176.8 284.4L178.2 284.1L179.6 283.7L181.0 283.4L182.4 283.1L183.8 282.8L185.2 282.5L186.6 282.1L187.9 281.8L189.3 281.5L190.7 281.1L192.1 280.8L193.5 280.4L194.9 280.1L196.3 279.8L197.7 279.4L199.1 279.1L200.5 278.8L201.9 278.4L203.3 278.1L204.6 277.6L206.0 277.2L207.4 276.7L208.8 276.0L210.2 275.2L211.6 274.2L213.0 273.2L214.4 272.2L215.8 271.2L217.2 270.2L218.6 269.1L219.9 268.0L221.3 267.0L222.7 265.9L224.1 264.8L225.5 263.7L226.9 262.6L228.3 261.5L229.7 260.3L231.1 259.2L232.5 258.1L233.9 256.9L235.2 255.8L236.6 254.6L238.0 253.6L239.4 252.6L240.8 251.7L242.2 250.9L243.6 250.3L245.0 249.8L246.4 249.3L247.8 249.0L249.2 248.8L250.6 248.7L251.9 248.6L253.3 248.5L254.7 248.5L256.1 248.6L257.5 248.8L258.9 249.0L260.3 249.2L261.7 249.5L263.1 249.7L264.5 250.0L265.9 250.3L267.2 250.6L268.6 251.0L270.0 251.4L271.4 251.8L272.8 252.2L274.2 252.7L275.6 253.2L277.0 253.7L278.4 254.1L279.8 254.6L281.2 255.1L282.6 255.6L283.9 256.1L285.3 256.6L286.7 257.1L288.1 257.7L289.5 258.2L290.9 258.7L292.3 259.2L293.7 259.8L295.1 260.3L296.5 260.8L297.9 261.3L299.2 261.7L300.6 262.2L302.0 262.7L303.4 263.1L304.8 263.6L306.2 264.1L307.6 264.6L309.0 265.0L310.4 265.5L311.8 265.9L313.2 266.4L314.5 266.8L315.9 267.2L317.3 267.5L318.7 267.9L320.1 268.2L321.5 268.5L322.9 268.7L324.3 269.0L325.7 269.3L327.1 269.5L328.5 269.8L329.9 270.0L331.2 270.3L332.6 270.5L334.0 270.7L335.4 270.9L336.8 271.0L338.2 271.2L339.6 271.3L341.0 271.4L342.4 271.5L343.8 271.5L345.2 271.5L346.5 271.5L347.9 271.4L349.3 271.4L350.7 271.3L352.1 271.2L353.5 271.1L354.9 271.0L356.3 270.9L357.7 270.8L359.1 270.7L360.5 270.5L361.8 270.4L363.2 270.2L364.6 270.1L366.0 269.9L367.4 269.8L368.8 269.6L370.2 269.4L371.6 269.1L373.0 268.9L374.4 268.6L375.8 268.3L377.2 268.0L378.5 267.7L379.9 267.4L381.3 267.0L382.7 266.6L384.1 266.3L385.5 265.9" fill="none" stroke="#ff0000" stroke-width="0.85" stroke-dasharray="13 2.6"/>
<path d="M53.0 312.0L54.4 311.9L55.8 311.7L57.2 311.6L58.6 311.5L60.0 311.3L61.3 311.2L62.7 311.1L64.1 310.9L65.5 310.8L66.9 310.6L68.3 310.5L69.7 310.4L71.1 310.2L72.5 310.1L73.9 309.9L75.3 309.8L76.7 309.6L78.0 309.5L79.4 309.3L80.8 309.2L82.2 309.1L83.6 308.9L85.0 308.8L86.4 308.6L87.8 308.4L89.2 308.3L90.6 308.1L92.0 308.0L93.3 307.8L94.7 307.7L96.1 307.5L97.5 307.4L98.9 307.2L100.3 307.1L101.7 306.9L103.1 306.7L104.5 306.6L105.9 306.4L107.3 306.3L108.6 306.1L110.0 305.9L111.4 305.8L112.8 305.6L114.2 305.4L115.6 305.3L117.0 305.1L118.4 304.9L119.8 304.7L121.2 304.5L122.6 304.3L124.0 304.2L125.3 304.0L126.7 303.8L128.1 303.6L129.5 303.4L130.9 303.2L132.3 303.0L133.7 302.8L135.1 302.7L136.5 302.5L137.9 302.3L139.3 302.1L140.6 301.9L142.0 301.8L143.4 301.6L144.8 301.4L146.2 301.2L147.6 301.1L149.0 300.9L150.4 300.8L151.8 300.6L153.2 300.5L154.6 300.4L155.9 300.2L157.3 300.1L158.7 300.0L160.1 299.9L161.5 299.7L162.9 299.6L164.3 299.5L165.7 299.3L167.1 299.2L168.5 299.0L169.9 298.8L171.3 298.6L172.6 298.5L174.0 298.3L175.4 298.1L176.8 297.9L178.2 297.7L179.6 297.4L181.0 297.2L182.4 297.0L183.8 296.8L185.2 296.6L186.6 296.3L187.9 296.1L189.3 295.9L190.7 295.6L192.1 295.4L193.5 295.2L194.9 294.9L196.3 294.7L197.7 294.4L199.1 294.2L200.5 293.9L201.9 293.7L203.3 293.4L204.6 293.1L206.0 292.8L207.4 292.5L208.8 292.1L210.2 291.7L211.6 291.3L213.0 290.7L214.4 290.1L215.8 289.4L217.2 288.7L218.6 288.0L219.9 287.2L221.3 286.5L222.7 285.7L224.1 284.9L225.5 284.1L226.9 283.2L228.3 282.4L229.7 281.6L231.1 280.8L232.5 279.9L233.9 279.0L235.2 278.1L236.6 277.3L238.0 276.5L239.4 275.8L240.8 275.3L242.2 274.8L243.6 274.5L245.0 274.3L246.4 274.1L247.8 274.0L249.2 274.0L250.6 274.0L251.9 274.1L253.3 274.2L254.7 274.3L256.1 274.5L257.5 274.9L258.9 275.3L260.3 275.6L261.7 276.0L263.1 276.5L264.5 277.0L265.9 277.6L267.2 278.2L268.6 279.0L270.0 279.8L271.4 280.6L272.8 281.4L274.2 282.4L275.6 283.3L277.0 284.2L278.4 285.3L279.8 286.4L281.2 287.6L282.6 288.6L283.9 289.6L285.3 290.5L286.7 291.4L288.1 292.3L289.5 293.2L290.9 294.1L292.3 295.1L293.7 296.1L295.1 297.1L296.5 298.1L297.9 299.0L299.2 300.0L300.6 301.0L302.0 302.0L303.4 303.0L304.8 304.0L306.2 305.0L307.6 305.9L309.0 306.9L310.4 307.9L311.8 308.9L313.2 309.9L314.5 310.9L315.9 311.9L317.3 312.9L318.7 313.8L320.1 314.8L321.5 315.8L322.9 316.8L324.3 317.8L325.7 318.8L327.1 319.7L328.5 320.7L329.9 321.7L331.2 322.6L332.6 323.6L334.0 324.6L335.4 325.5L336.8 326.5L338.2 327.6L339.6 328.6L341.0 329.7L342.4 330.7L343.8 331.8L345.2 333.0L346.5 334.1L347.9 335.3L349.3 336.4L350.7 337.6L352.1 338.8L353.5 340.0L354.9 341.2L356.3 342.4L357.7 343.5L359.1 344.7L360.5 345.9L361.8 347.0L363.2 348.2L364.6 349.4L366.0 350.5L367.4 351.7L368.8 352.8L370.2 354.0L371.6 355.1L373.0 356.3L374.4 357.5L375.8 358.7L377.2 359.8L378.5 361.0L379.9 362.3L381.3 363.5L382.7 364.7L384.1 366.0L385.5 367.3" fill="none" stroke="#ff0000" stroke-width="0.85" stroke-dasharray="13 2.6"/>
<path d="M53.0 333.2L54.4 333.1L55.8 333.0L57.2 332.9L58.6 332.9L60.0 332.8L61.3 332.7L62.7 332.6L64.1 332.5L65.5 332.4L66.9 332.3L68.3 332.2L69.7 332.1L71.1 332.0L72.5 331.9L73.9 331.8L75.3 331.6L76.7 331.5L78.0 331.4L79.4 331.3L80.8 331.2L82.2 331.1L83.6 331.0L85.0 330.9L86.4 330.7L87.8 330.6L89.2 330.5L90.6 330.4L92.0 330.2L93.3 330.1L94.7 330.0L96.1 329.9L97.5 329.7L98.9 329.6L100.3 329.5L101.7 329.3L103.1 329.2L104.5 329.1L105.9 329.0L107.3 328.8L108.6 328.7L110.0 328.5L111.4 328.4L112.8 328.3L114.2 328.1L115.6 328.0L117.0 327.8L118.4 327.7L119.8 327.5L121.2 327.4L122.6 327.2L124.0 327.1L125.3 326.9L126.7 326.7L128.1 326.6L129.5 326.4L130.9 326.2L132.3 326.1L133.7 325.9L135.1 325.7L136.5 325.5L137.9 325.4L139.3 325.2L140.6 325.0L142.0 324.8L143.4 324.7L144.8 324.5L146.2 324.3L147.6 324.1L149.0 323.9L150.4 323.7L151.8 323.6L153.2 323.4L154.6 323.2L155.9 323.0L157.3 322.8L158.7 322.6L160.1 322.4L161.5 322.2L162.9 322.0L164.3 321.8L165.7 321.6L167.1 321.4L168.5 321.2L169.9 321.0L171.3 320.8L172.6 320.6L174.0 320.4L175.4 320.2L176.8 320.0L178.2 319.8L179.6 319.6L181.0 319.3L182.4 319.1L183.8 318.9L185.2 318.7L186.6 318.5L187.9 318.3L189.3 318.1L190.7 317.9L192.1 317.7L193.5 317.4L194.9 317.2L196.3 317.0L197.7 316.8L199.1 316.6L200.5 316.3L201.9 316.1L203.3 315.9L204.6 315.7L206.0 315.5L207.4 315.2L208.8 315.0L210.2 314.8L211.6 314.6L213.0 314.4L214.4 314.2L215.8 314.0L217.2 313.8L218.6 313.6L219.9 313.4L221.3 313.2L222.7 313.0L224.1 312.8L225.5 312.5L226.9 312.3L228.3 312.1L229.7 311.9L231.1 311.6L232.5 311.4L233.9 311.1L235.2 310.8L236.6 310.6L238.0 310.3L239.4 310.0L240.8 309.7L242.2 309.4L243.6 309.1L245.0 308.8L246.4 308.6L247.8 308.3L249.2 308.0L250.6 307.7L251.9 307.4L253.3 307.1L254.7 306.8L256.1 306.5L257.5 306.2L258.9 305.9L260.3 305.6L261.7 305.3L263.1 305.0L264.5 304.7L265.9 304.4L267.2 304.1L268.6 303.7L270.0 303.4L271.4 303.1L272.8 302.8L274.2 302.5L275.6 302.2L277.0 301.9L278.4 301.6L279.8 301.3L281.2 300.9L282.6 300.6L283.9 300.3L285.3 300.0L286.7 299.7L288.1 299.4L289.5 299.0L290.9 298.7L292.3 298.4L293.7 298.0L295.1 297.7L296.5 297.4L297.9 297.1L299.2 296.7L300.6 296.4L302.0 296.1L303.4 295.7L304.8 295.4L306.2 295.1L307.6 294.7L309.0 294.4L310.4 294.1L311.8 293.8L313.2 293.4L314.5 293.1L315.9 292.8L317.3 292.4L318.7 292.1L320.1 291.7L321.5 291.4L322.9 291.0L324.3 290.6L325.7 290.2L327.1 289.8L328.5 289.5L329.9 289.1L331.2 288.7L332.6 288.2L334.0 287.8L335.4 287.4L336.8 287.0L338.2 286.6L339.6 286.2L341.0 285.8L342.4 285.3L343.8 284.9L345.2 284.5L346.5 284.1L347.9 283.7L349.3 283.3L350.7 282.8L352.1 282.4L353.5 282.0L354.9 281.6L356.3 281.1L357.7 280.7L359.1 280.3L360.5 279.8L361.8 279.4L363.2 279.0L364.6 278.5L366.0 278.1L367.4 277.6L368.8 277.2L370.2 276.7L371.6 276.3L373.0 275.8L374.4 275.4L375.8 274.9L377.2 274.4L378.5 274.0L379.9 273.5L381.3 273.0L382.7 272.6L384.1 272.1L385.5 271.6" fill="none" stroke="#0000ff" stroke-width="0.85" stroke-dasharray="4 3.4"/>
<path d="M53.0 340.5L54.4 340.4L55.8 340.4L57.2 340.3L58.6 340.2L60.0 340.2L61.3 340.1L62.7 340.0L64.1 340.0L65.5 339.9L66.9 339.8L68.3 339.8L69.7 339.7L71.1 339.6L72.5 339.5L73.9 339.5L75.3 339.4L76.7 339.3L78.0 339.2L79.4 339.1L80.8 339.1L82.2 339.0L83.6 338.9L85.0 338.8L86.4 338.7L87.8 338.7L89.2 338.6L90.6 338.5L92.0 338.4L93.3 338.3L94.7 338.2L96.1 338.2L97.5 338.1L98.9 338.0L100.3 337.9L101.7 337.8L103.1 337.7L104.5 337.6L105.9 337.5L107.3 337.4L108.6 337.4L110.0 337.3L111.4 337.2L112.8 337.1L114.2 337.0L115.6 336.9L117.0 336.8L118.4 336.7L119.8 336.6L121.2 336.5L122.6 336.4L124.0 336.3L125.3 336.2L126.7 336.1L128.1 336.0L129.5 335.9L130.9 335.8L132.3 335.7L133.7 335.5L135.1 335.4L136.5 335.3L137.9 335.2L139.3 335.1L140.6 335.0L142.0 334.9L143.4 334.8L144.8 334.6L146.2 334.5L147.6 334.4L149.0 334.3L150.4 334.2L151.8 334.0L153.2 333.9L154.6 333.8L155.9 333.7L157.3 333.5L158.7 333.4L160.1 333.3L161.5 333.1L162.9 333.0L164.3 332.8L165.7 332.7L167.1 332.6L168.5 332.4L169.9 332.3L171.3 332.1L172.6 332.0L174.0 331.8L175.4 331.7L176.8 331.5L178.2 331.4L179.6 331.2L181.0 331.1L182.4 330.9L183.8 330.8L185.2 330.6L186.6 330.5L187.9 330.4L189.3 330.3L190.7 330.2L192.1 330.1L193.5 330.0L194.9 330.0L196.3 329.9L197.7 329.8L199.1 329.7L200.5 329.7L201.9 329.6L203.3 329.5L204.6 329.5L206.0 329.4L207.4 329.4L208.8 329.3L210.2 329.3L211.6 329.2L213.0 329.2L214.4 329.1L215.8 329.1L217.2 329.1L218.6 329.0L219.9 329.0L221.3 329.0L222.7 328.9L224.1 328.9L225.5 328.9L226.9 328.8L228.3 328.8L229.7 328.7L231.1 328.7L232.5 328.6L233.9 328.5L235.2 328.4L236.6 328.3L238.0 328.2L239.4 328.1L240.8 328.0L242.2 327.9L243.6 327.8L245.0 327.8L246.4 327.7L247.8 327.7L249.2 327.7L250.6 327.6L251.9 327.6L253.3 327.6L254.7 327.5L256.1 327.5L257.5 327.5L258.9 327.4L260.3 327.4L261.7 327.4L263.1 327.4L264.5 327.4L265.9 327.4L267.2 327.4L268.6 327.5L270.0 327.5L271.4 327.6L272.8 327.7L274.2 327.7L275.6 327.8L277.0 327.9L278.4 328.0L279.8 328.1L281.2 328.2L282.6 328.3L283.9 328.4L285.3 328.5L286.7 328.6L288.1 328.7L289.5 328.9L290.9 329.0L292.3 329.2L293.7 329.4L295.1 329.5L296.5 329.7L297.9 329.9L299.2 330.1L300.6 330.3L302.0 330.5L303.4 330.7L304.8 330.9L306.2 331.2L307.6 331.4L309.0 331.7L310.4 331.9L311.8 332.2L313.2 332.5L314.5 332.8L315.9 333.1L317.3 333.4L318.7 333.8L320.1 334.2L321.5 334.6L322.9 335.0L324.3 335.4L325.7 335.9L327.1 336.3L328.5 336.8L329.9 337.2L331.2 337.7L332.6 338.2L334.0 338.7L335.4 339.3L336.8 339.8L338.2 340.4L339.6 340.9L341.0 341.5L342.4 342.1L343.8 342.8L345.2 343.4L346.5 344.1L347.9 344.8L349.3 345.5L350.7 346.2L352.1 347.0L353.5 347.8L354.9 348.6L356.3 349.4L357.7 350.2L359.1 351.0L360.5 351.9L361.8 352.8L363.2 353.6L364.6 354.5L366.0 355.5L367.4 356.4L368.8 357.4L370.2 358.3L371.6 359.3L373.0 360.3L374.4 361.3L375.8 362.3L377.2 363.4L378.5 364.4L379.9 365.5L381.3 366.6L382.7 367.7L384.1 368.8L385.5 370.0" fill="none" stroke="#0000ff" stroke-width="0.85" stroke-dasharray="4 3.4"/>
<polyline points="66.8,337.2 109.6,338.4 152.6,328.8 195.6,321.4 238.5,311.7 281.5,279.6 324.3,312.7 367.3,325.6" fill="none" stroke="#0000ff" stroke-width="1.25"/>
<path d="M66.8 335.4V339.0M62.8 335.4H70.8M62.8 339.0H70.8" fill="none" stroke="#0000ff" stroke-width="1.25"/>
<rect x="64.1" y="334.6" width="5.3" height="5.3" fill="none" stroke="#0000ff" stroke-width="1.25"/>
<path d="M109.6 335.5V341.3M105.6 335.5H113.6M105.6 341.3H113.6" fill="none" stroke="#0000ff" stroke-width="1.25"/>
<rect x="106.9" y="335.8" width="5.3" height="5.3" fill="none" stroke="#0000ff" stroke-width="1.25"/>
<path d="M152.6 327.0V330.6M148.6 327.0H156.6M148.6 330.6H156.6" fill="none" stroke="#0000ff" stroke-width="1.25"/>
<rect x="149.9" y="326.2" width="5.3" height="5.3" fill="none" stroke="#0000ff" stroke-width="1.25"/>
<path d="M195.6 319.0V323.8M191.6 319.0H199.6M191.6 323.8H199.6" fill="none" stroke="#0000ff" stroke-width="1.25"/>
<rect x="192.9" y="318.8" width="5.3" height="5.3" fill="none" stroke="#0000ff" stroke-width="1.25"/>
<path d="M238.5 310.2V313.2M234.5 310.2H242.5M234.5 313.2H242.5" fill="none" stroke="#0000ff" stroke-width="1.25"/>
<rect x="235.8" y="309.1" width="5.3" height="5.3" fill="none" stroke="#0000ff" stroke-width="1.25"/>
<path d="M281.5 271.8V287.5M277.5 271.8H285.5M277.5 287.5H285.5" fill="none" stroke="#0000ff" stroke-width="1.25"/>
<rect x="278.9" y="277.0" width="5.3" height="5.3" fill="none" stroke="#0000ff" stroke-width="1.25"/>
<path d="M324.3 309.5V315.9M320.3 309.5H328.3M320.3 315.9H328.3" fill="none" stroke="#0000ff" stroke-width="1.25"/>
<rect x="321.7" y="310.1" width="5.3" height="5.3" fill="none" stroke="#0000ff" stroke-width="1.25"/>
<path d="M367.3 312.6V338.6M363.3 312.6H371.3M363.3 338.6H371.3" fill="none" stroke="#0000ff" stroke-width="1.25"/>
<rect x="364.7" y="323.0" width="5.3" height="5.3" fill="none" stroke="#0000ff" stroke-width="1.25"/>
<polyline points="66.8,311.9 109.6,306.4 152.6,298.3 195.6,285.2 238.5,267.4 281.5,220.9 324.3,281.0 367.3,326.1" fill="none" stroke="#ff0000" stroke-width="1.25"/>
<path d="M66.8 308.9V314.9M62.8 308.9H70.8M62.8 314.9H70.8" fill="none" stroke="#ff0000" stroke-width="1.25"/>
<path d="M66.8 308.7L69.6 313.5L64.0 313.5Z" fill="none" stroke="#ff0000" stroke-width="1.25" stroke-linejoin="round"/>
<path d="M109.6 301.4V311.4M105.6 301.4H113.6M105.6 311.4H113.6" fill="none" stroke="#ff0000" stroke-width="1.25"/>
<path d="M109.6 303.2L112.4 308.0L106.8 308.0Z" fill="none" stroke="#ff0000" stroke-width="1.25" stroke-linejoin="round"/>
<path d="M152.6 296.5V300.1M148.6 296.5H156.6M148.6 300.1H156.6" fill="none" stroke="#ff0000" stroke-width="1.25"/>
<path d="M152.6 295.1L155.4 299.9L149.8 299.9Z" fill="none" stroke="#ff0000" stroke-width="1.25" stroke-linejoin="round"/>
<path d="M195.6 280.2V290.2M191.6 280.2H199.6M191.6 290.2H199.6" fill="none" stroke="#ff0000" stroke-width="1.25"/>
<path d="M195.6 282.0L198.4 286.8L192.8 286.8Z" fill="none" stroke="#ff0000" stroke-width="1.25" stroke-linejoin="round"/>
<path d="M238.5 263.4V271.4M234.5 263.4H242.5M234.5 271.4H242.5" fill="none" stroke="#ff0000" stroke-width="1.25"/>
<path d="M238.5 264.2L241.3 269.0L235.7 269.0Z" fill="none" stroke="#ff0000" stroke-width="1.25" stroke-linejoin="round"/>
<path d="M281.5 208.3V233.5M277.5 208.3H285.5M277.5 233.5H285.5" fill="none" stroke="#ff0000" stroke-width="1.25"/>
<path d="M281.5 217.7L284.3 222.5L278.7 222.5Z" fill="none" stroke="#ff0000" stroke-width="1.25" stroke-linejoin="round"/>
<path d="M324.3 276.2V285.8M320.3 276.2H328.3M320.3 285.8H328.3" fill="none" stroke="#ff0000" stroke-width="1.25"/>
<path d="M324.3 277.8L327.1 282.6L321.5 282.6Z" fill="none" stroke="#ff0000" stroke-width="1.25" stroke-linejoin="round"/>
<path d="M367.3 312.7V339.5M363.3 312.7H371.3M363.3 339.5H371.3" fill="none" stroke="#ff0000" stroke-width="1.25"/>
<path d="M367.3 322.9L370.1 327.7L364.5 327.7Z" fill="none" stroke="#ff0000" stroke-width="1.25" stroke-linejoin="round"/>
</g>
<path d="M81.6 22.5v4.5M81.6 188.5v9.0M81.6 363.4v-4.5M98.3 22.5v4.5M98.3 188.5v9.0M98.3 363.4v-4.5M110.1 22.5v4.5M110.1 188.5v9.0M110.1 363.4v-4.5M119.3 22.5v4.5M119.3 188.5v9.0M119.3 363.4v-4.5M126.8 22.5v4.5M126.8 188.5v9.0M126.8 363.4v-4.5M133.2 22.5v4.5M133.2 188.5v9.0M133.2 363.4v-4.5M138.7 22.5v4.5M138.7 188.5v9.0M138.7 363.4v-4.5M143.5 22.5v4.5M143.5 188.5v9.0M143.5 363.4v-4.5M147.9 22.5v9M147.9 184.0v18M147.9 363.4v-9M176.4 22.5v4.5M176.4 188.5v9.0M176.4 363.4v-4.5M193.1 22.5v4.5M193.1 188.5v9.0M193.1 363.4v-4.5M205.0 22.5v4.5M205.0 188.5v9.0M205.0 363.4v-4.5M214.2 22.5v4.5M214.2 188.5v9.0M214.2 363.4v-4.5M221.7 22.5v4.5M221.7 188.5v9.0M221.7 363.4v-4.5M228.0 22.5v4.5M228.0 188.5v9.0M228.0 363.4v-4.5M233.5 22.5v4.5M233.5 188.5v9.0M233.5 363.4v-4.5M238.4 22.5v4.5M238.4 188.5v9.0M238.4 363.4v-4.5M242.7 22.5v9M242.7 184.0v18M242.7 363.4v-9M271.3 22.5v4.5M271.3 188.5v9.0M271.3 363.4v-4.5M288.0 22.5v4.5M288.0 188.5v9.0M288.0 363.4v-4.5M299.9 22.5v4.5M299.9 188.5v9.0M299.9 363.4v-4.5M309.1 22.5v4.5M309.1 188.5v9.0M309.1 363.4v-4.5M316.6 22.5v4.5M316.6 188.5v9.0M316.6 363.4v-4.5M322.9 22.5v4.5M322.9 188.5v9.0M322.9 363.4v-4.5M328.4 22.5v4.5M328.4 188.5v9.0M328.4 363.4v-4.5M333.3 22.5v4.5M333.3 188.5v9.0M333.3 363.4v-4.5M337.6 22.5v9M337.6 184.0v18M337.6 363.4v-9M366.2 22.5v4.5M366.2 188.5v9.0M366.2 363.4v-4.5M382.9 22.5v4.5M382.9 188.5v9.0M382.9 363.4v-4.5M53.0 184.2h9M385.5 184.2h-9M53.0 175.5h4.5M385.5 175.5h-4.5M53.0 166.7h4.5M385.5 166.7h-4.5M53.0 158.0h4.5M385.5 158.0h-4.5M53.0 149.2h4.5M385.5 149.2h-4.5M53.0 140.5h9M385.5 140.5h-9M53.0 131.7h4.5M385.5 131.7h-4.5M53.0 123.0h4.5M385.5 123.0h-4.5M53.0 114.2h4.5M385.5 114.2h-4.5M53.0 105.5h4.5M385.5 105.5h-4.5M53.0 96.7h9M385.5 96.7h-9M53.0 88.0h4.5M385.5 88.0h-4.5M53.0 79.2h4.5M385.5 79.2h-4.5M53.0 70.5h4.5M385.5 70.5h-4.5M53.0 61.8h4.5M385.5 61.8h-4.5M53.0 53.0h9M385.5 53.0h-9M53.0 44.3h4.5M385.5 44.3h-4.5M53.0 35.5h4.5M385.5 35.5h-4.5M53.0 26.8h4.5M385.5 26.8h-4.5M53.0 355.5h4.5M385.5 355.5h-4.5M53.0 347.4h9M385.5 347.4h-9M53.0 339.3h4.5M385.5 339.3h-4.5M53.0 331.1h4.5M385.5 331.1h-4.5M53.0 323.0h4.5M385.5 323.0h-4.5M53.0 314.9h9M385.5 314.9h-9M53.0 306.8h4.5M385.5 306.8h-4.5M53.0 298.6h4.5M385.5 298.6h-4.5M53.0 290.5h4.5M385.5 290.5h-4.5M53.0 282.4h9M385.5 282.4h-9M53.0 274.3h4.5M385.5 274.3h-4.5M53.0 266.1h4.5M385.5 266.1h-4.5M53.0 258.0h4.5M385.5 258.0h-4.5M53.0 249.9h9M385.5 249.9h-9M53.0 241.8h4.5M385.5 241.8h-4.5M53.0 233.6h4.5M385.5 233.6h-4.5M53.0 225.5h4.5M385.5 225.5h-4.5M53.0 217.4h9M385.5 217.4h-9M53.0 209.3h4.5M385.5 209.3h-4.5M53.0 201.1h4.5M385.5 201.1h-4.5" fill="none" stroke="#1a1a1a" stroke-width="1"/>
<path d="M53.0 22.5H385.5V363.4H53.0ZM53.0 193.0H385.5" fill="none" stroke="#2a2a2a" stroke-width="1.15"/>
<path d="M84.6 63.8L87.4 68.6L81.8 68.6Z" fill="none" stroke="#ff0000" stroke-width="1.25" stroke-linejoin="round"/>
<rect x="79.1" y="79" width="11" height="10.9" fill="#d8acac" stroke="none"/>
<path d="M86.6 79H90.1V89.9H79.1V79H82.8" fill="none" stroke="#ff0000" stroke-width="1.25"/>
<rect x="81.6" y="99.8" width="5.3" height="5.3" fill="none" stroke="#0000ff" stroke-width="1.25"/>
<rect x="79.1" y="115.9" width="11" height="11" fill="#acacd8" stroke="none"/>
<path d="M79.1 115.9H90.1M90.1 115.9V126.9M90.1 126.9H79.1M79.1 126.9V115.9" fill="none" stroke="#0000ff" stroke-width="1.25" stroke-dasharray="4 3"/>
<g style="filter:grayscale(1)">
<text x="37.6" y="189.1" font-family="Liberation Sans, sans-serif" font-size="13.6" fill="#333" textLength="7.9" lengthAdjust="spacingAndGlyphs" >0</text>
<text x="37.6" y="145.4" font-family="Liberation Sans, sans-serif" font-size="13.6" fill="#333" textLength="7.9" lengthAdjust="spacingAndGlyphs" >1</text>
<text x="37.6" y="101.6" font-family="Liberation Sans, sans-serif" font-size="13.6" fill="#333" textLength="7.9" lengthAdjust="spacingAndGlyphs" >2</text>
<text x="37.6" y="57.9" font-family="Liberation Sans, sans-serif" font-size="13.6" fill="#333" textLength="7.9" lengthAdjust="spacingAndGlyphs" >3</text>
<text x="37.6" y="352.3" font-family="Liberation Sans, sans-serif" font-size="13.6" fill="#333" textLength="7.9" lengthAdjust="spacingAndGlyphs" >0</text>
<text x="25.6" y="319.8" font-family="Liberation Sans, sans-serif" font-size="13.6" fill="#333" textLength="19.9" lengthAdjust="spacingAndGlyphs" >0.2</text>
<text x="25.6" y="287.3" font-family="Liberation Sans, sans-serif" font-size="13.6" fill="#333" textLength="19.9" lengthAdjust="spacingAndGlyphs" >0.4</text>
<text x="25.6" y="254.8" font-family="Liberation Sans, sans-serif" font-size="13.6" fill="#333" textLength="19.9" lengthAdjust="spacingAndGlyphs" >0.6</text>
<text x="25.6" y="222.3" font-family="Liberation Sans, sans-serif" font-size="13.6" fill="#333" textLength="19.9" lengthAdjust="spacingAndGlyphs" >0.8</text>
<text x="41.1" y="380.8" font-family="Liberation Serif, serif" font-size="14" fill="#333" textLength="15.6" lengthAdjust="spacingAndGlyphs" >10</text>
<text x="57.2" y="376.7" font-family="Liberation Serif, serif" font-size="10" fill="#333" textLength="8.6" lengthAdjust="spacingAndGlyphs" >12</text>
<text x="136.0" y="380.8" font-family="Liberation Serif, serif" font-size="14" fill="#333" textLength="15.6" lengthAdjust="spacingAndGlyphs" >10</text>
<text x="152.1" y="376.7" font-family="Liberation Serif, serif" font-size="10" fill="#333" textLength="8.6" lengthAdjust="spacingAndGlyphs" >13</text>
<text x="230.8" y="380.8" font-family="Liberation Serif, serif" font-size="14" fill="#333" textLength="15.6" lengthAdjust="spacingAndGlyphs" >10</text>
<text x="246.9" y="376.7" font-family="Liberation Serif, serif" font-size="10" fill="#333" textLength="8.6" lengthAdjust="spacingAndGlyphs" >14</text>
<text x="325.7" y="380.8" font-family="Liberation Serif, serif" font-size="14" fill="#333" textLength="15.6" lengthAdjust="spacingAndGlyphs" >10</text>
<text x="341.8" y="376.7" font-family="Liberation Serif, serif" font-size="10" fill="#333" textLength="8.6" lengthAdjust="spacingAndGlyphs" >15</text>
<text x="181.2" y="400.5" font-family="Liberation Serif, serif" font-size="14" fill="#333" textLength="9.7" lengthAdjust="spacingAndGlyphs" >M</text>
<text x="191.2" y="404.8" font-family="Liberation Sans, sans-serif" font-size="8.6" fill="#333" textLength="13.8" lengthAdjust="spacingAndGlyphs" stroke="#333" stroke-width="0.3">300</text>
<path d="M216 389.6H213.1V403.2H216M254.3 389.6H257.2V403.2H254.3" stroke="#333" stroke-width="1" fill="none"/>
<text x="217.0" y="400.5" font-family="Liberation Serif, serif" font-size="14" fill="#333" textLength="10.0" lengthAdjust="spacingAndGlyphs" >M</text>
<circle cx="230.6" cy="401.2" r="2.7" fill="none" stroke="#333" stroke-width="0.8"/><circle cx="230.6" cy="401.2" r="0.7" fill="#333"/>
<path d="M235.2 403.2L243.2 389.5" stroke="#333" stroke-width="1" fill="none"/>
<text x="244.7" y="400.5" font-family="Liberation Serif, serif" font-size="14" fill="#333" textLength="8.8" lengthAdjust="spacingAndGlyphs" >h</text>
<g transform="translate(13.6 231) rotate(-90)"><text x="0.0" y="0.0" font-family="Liberation Serif, serif" font-size="14" fill="#333" textLength="9.0" lengthAdjust="spacingAndGlyphs" >Δ</text><text x="10.1" y="0.0" font-family="Liberation Serif, serif" font-size="14" fill="#333" textLength="8.2" lengthAdjust="spacingAndGlyphs" >n</text><text x="18.8" y="3.7" font-family="Liberation Serif, serif" font-size="10" fill="#333" textLength="7.7" lengthAdjust="spacingAndGlyphs" stroke="#333" stroke-width="0.25">ln</text><text x="29.3" y="3.7" font-family="Liberation Sans, sans-serif" font-size="6.5" fill="#333" textLength="5.0" lengthAdjust="spacingAndGlyphs" font-weight="bold">M</text><path d="M38.1 0.3L52.2 -10.6" stroke="#333" stroke-width="1" fill="none"/><text x="55.2" y="0.0" font-family="Liberation Serif, serif" font-size="14" fill="#333" textLength="8.2" lengthAdjust="spacingAndGlyphs" >n</text><text x="63.8" y="3.7" font-family="Liberation Serif, serif" font-size="10" fill="#333" textLength="7.7" lengthAdjust="spacingAndGlyphs" stroke="#333" stroke-width="0.25">ln</text><text x="74.3" y="3.7" font-family="Liberation Sans, sans-serif" font-size="6.5" fill="#333" textLength="5.0" lengthAdjust="spacingAndGlyphs" font-weight="bold">M</text></g>
<path d="M73.9 34.4V47.5M92.8 34.4V47.5M99.0 39.4H106.9M99.0 42.7H106.9" stroke="#111" stroke-width="1.2" fill="none"/><text x="76.2" y="46.1" font-family="Liberation Serif, serif" font-size="14" fill="#111" textLength="5.6" lengthAdjust="spacingAndGlyphs" stroke="#111" stroke-width="0.5">f</text><text x="81.9" y="49.0" font-family="Liberation Sans, sans-serif" font-size="8.5" fill="#111" textLength="9.6" lengthAdjust="spacingAndGlyphs" font-weight="bold" stroke="#111" stroke-width="0.45">R0</text><text x="112.9" y="45.1" font-family="Liberation Sans, sans-serif" font-size="12.6" fill="#111" textLength="15.0" lengthAdjust="spacingAndGlyphs" stroke="#111" stroke-width="0.25">10</text><text x="129.2" y="42.2" font-family="Liberation Sans, sans-serif" font-size="7.8" fill="#111" textLength="9.8" lengthAdjust="spacingAndGlyphs" font-weight="bold" stroke="#111" stroke-width="0.3">−4</text>
<path d="M73.9 205.3V218.4M92.8 205.3V218.4M99.0 210.3H106.9M99.0 213.6H106.9" stroke="#111" stroke-width="1.2" fill="none"/><text x="76.2" y="217.0" font-family="Liberation Serif, serif" font-size="14" fill="#111" textLength="5.6" lengthAdjust="spacingAndGlyphs" stroke="#111" stroke-width="0.5">f</text><text x="81.9" y="219.9" font-family="Liberation Sans, sans-serif" font-size="8.5" fill="#111" textLength="9.6" lengthAdjust="spacingAndGlyphs" font-weight="bold" stroke="#111" stroke-width="0.45">R0</text><text x="112.9" y="216.0" font-family="Liberation Sans, sans-serif" font-size="12.6" fill="#111" textLength="15.0" lengthAdjust="spacingAndGlyphs" stroke="#111" stroke-width="0.25">10</text><text x="129.2" y="213.1" font-family="Liberation Sans, sans-serif" font-size="7.8" fill="#111" textLength="9.8" lengthAdjust="spacingAndGlyphs" font-weight="bold" stroke="#111" stroke-width="0.3">−5</text>
</g>
<text x="97.6" y="71.4" font-family="Liberation Serif, serif" font-size="14" fill="#ff0000" textLength="54.9" lengthAdjust="spacingAndGlyphs" stroke="#ff0000" stroke-width="0.18">N−body,</text><text x="162.0" y="71.4" font-family="Liberation Serif, serif" font-size="14" fill="#ff0000" textLength="9.5" lengthAdjust="spacingAndGlyphs" stroke="#ff0000" stroke-width="0.45">M</text><text x="171.9" y="75.0" font-family="Liberation Sans, sans-serif" font-size="8.3" fill="#ff0000" textLength="14.6" lengthAdjust="spacingAndGlyphs" font-weight="bold">dyn</text>
<text x="97.6" y="89.4" font-family="Liberation Serif, serif" font-size="14" fill="#ff0000" textLength="28.2" lengthAdjust="spacingAndGlyphs" stroke="#ff0000" stroke-width="0.18">Sph.</text><text x="134.0" y="89.4" font-family="Liberation Serif, serif" font-size="14" fill="#ff0000" textLength="59.0" lengthAdjust="spacingAndGlyphs" stroke="#ff0000" stroke-width="0.18">collapse,</text><text x="201.4" y="89.4" font-family="Liberation Serif, serif" font-size="14" fill="#ff0000" textLength="9.5" lengthAdjust="spacingAndGlyphs" stroke="#ff0000" stroke-width="0.45">M</text><text x="211.3" y="93.0" font-family="Liberation Sans, sans-serif" font-size="8.3" fill="#ff0000" textLength="14.6" lengthAdjust="spacingAndGlyphs" font-weight="bold">dyn</text>
<text x="97.6" y="107.4" font-family="Liberation Serif, serif" font-size="14" fill="#0000ff" textLength="54.9" lengthAdjust="spacingAndGlyphs" stroke="#0000ff" stroke-width="0.18">N−body,</text><text x="162.0" y="107.4" font-family="Liberation Serif, serif" font-size="14" fill="#0000ff" textLength="9.5" lengthAdjust="spacingAndGlyphs" stroke="#0000ff" stroke-width="0.45">M</text><text x="171.9" y="111.0" font-family="Liberation Sans, sans-serif" font-size="8.3" fill="#0000ff" textLength="15.8" lengthAdjust="spacingAndGlyphs" font-weight="bold">lens</text>
<text x="97.6" y="125.4" font-family="Liberation Serif, serif" font-size="14" fill="#0000ff" textLength="28.2" lengthAdjust="spacingAndGlyphs" stroke="#0000ff" stroke-width="0.18">Sph.</text><text x="134.0" y="125.4" font-family="Liberation Serif, serif" font-size="14" fill="#0000ff" textLength="59.0" lengthAdjust="spacingAndGlyphs" stroke="#0000ff" stroke-width="0.18">collapse,</text><text x="201.4" y="125.4" font-family="Liberation Serif, serif" font-size="14" fill="#0000ff" textLength="9.5" lengthAdjust="spacingAndGlyphs" stroke="#0000ff" stroke-width="0.45">M</text><text x="211.3" y="129.0" font-family="Liberation Sans, sans-serif" font-size="8.3" fill="#0000ff" textLength="15.8" lengthAdjust="spacingAndGlyphs" font-weight="bold">lens</text>
</g>
</svg>
</body></html>
